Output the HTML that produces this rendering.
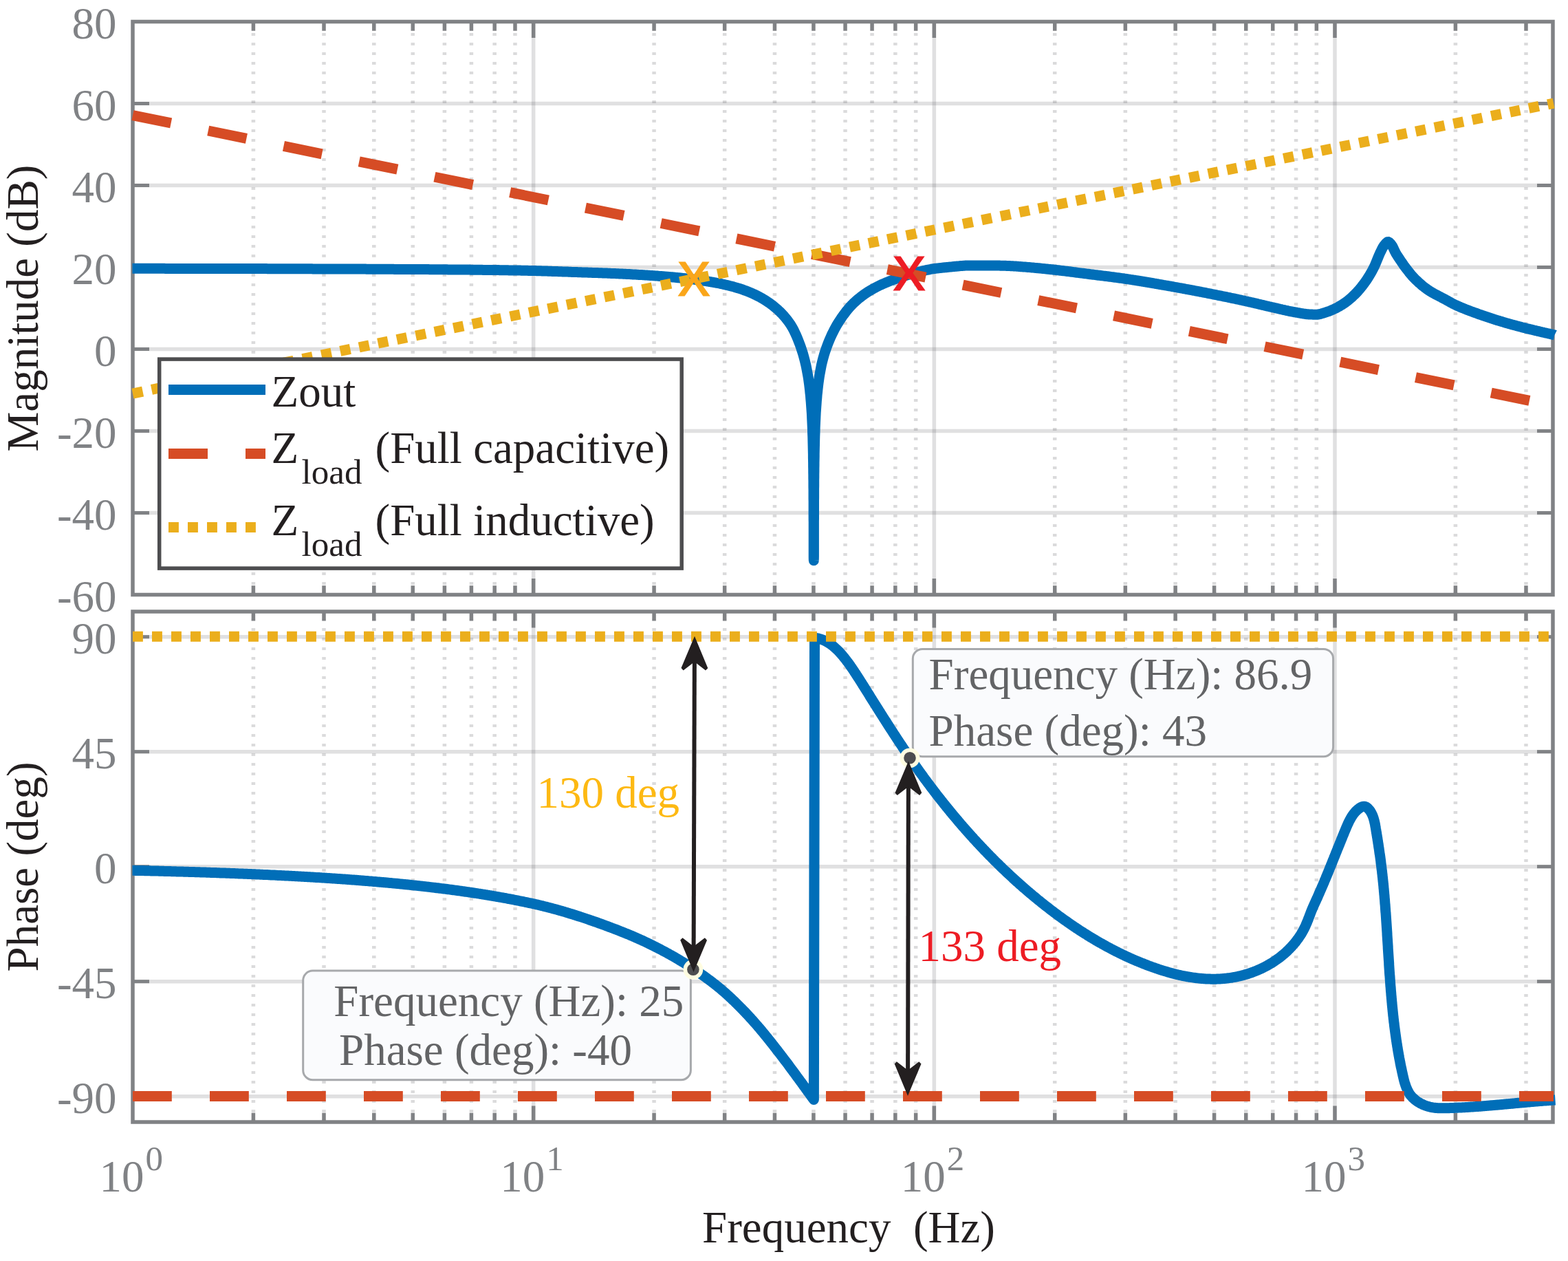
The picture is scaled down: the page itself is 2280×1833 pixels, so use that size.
<!DOCTYPE html>
<html lang="en">
<head>
<meta charset="utf-8">
<title>Bode plot: Zout and Zload</title>
<style>html,body{margin:0;padding:0;background:#fff}body{width:2280px;height:1833px;overflow:hidden}svg text{white-space:pre}</style>
</head>
<body>
<svg xmlns="http://www.w3.org/2000/svg" width="2280" height="1833" viewBox="0 0 2280 1833" style="display:block" font-family="'Liberation Serif', serif" font-size="65.0">
<rect width="2280" height="1833" fill="#fff"/>
<g id="mag">
<line x1="775.66" y1="31.5" x2="775.66" y2="864.5" stroke="rgba(40,40,50,0.145)" stroke-width="5.5"/>
<line x1="1358.33" y1="31.5" x2="1358.33" y2="864.5" stroke="rgba(40,40,50,0.145)" stroke-width="5.5"/>
<line x1="1940.99" y1="31.5" x2="1940.99" y2="864.5" stroke="rgba(40,40,50,0.145)" stroke-width="5.5"/>
<line x1="368.40" y1="48.1" x2="368.40" y2="864.5" stroke="rgba(40,40,50,0.17)" stroke-width="5.5" stroke-dasharray="4 10"/>
<line x1="471.00" y1="48.1" x2="471.00" y2="864.5" stroke="rgba(40,40,50,0.17)" stroke-width="5.5" stroke-dasharray="4 10"/>
<line x1="543.80" y1="48.1" x2="543.80" y2="864.5" stroke="rgba(40,40,50,0.17)" stroke-width="5.5" stroke-dasharray="4 10"/>
<line x1="600.26" y1="48.1" x2="600.26" y2="864.5" stroke="rgba(40,40,50,0.17)" stroke-width="5.5" stroke-dasharray="4 10"/>
<line x1="646.40" y1="48.1" x2="646.40" y2="864.5" stroke="rgba(40,40,50,0.17)" stroke-width="5.5" stroke-dasharray="4 10"/>
<line x1="685.41" y1="48.1" x2="685.41" y2="864.5" stroke="rgba(40,40,50,0.17)" stroke-width="5.5" stroke-dasharray="4 10"/>
<line x1="719.20" y1="48.1" x2="719.20" y2="864.5" stroke="rgba(40,40,50,0.17)" stroke-width="5.5" stroke-dasharray="4 10"/>
<line x1="749.00" y1="48.1" x2="749.00" y2="864.5" stroke="rgba(40,40,50,0.17)" stroke-width="5.5" stroke-dasharray="4 10"/>
<line x1="951.06" y1="48.1" x2="951.06" y2="864.5" stroke="rgba(40,40,50,0.17)" stroke-width="5.5" stroke-dasharray="4 10"/>
<line x1="1053.67" y1="48.1" x2="1053.67" y2="864.5" stroke="rgba(40,40,50,0.17)" stroke-width="5.5" stroke-dasharray="4 10"/>
<line x1="1126.46" y1="48.1" x2="1126.46" y2="864.5" stroke="rgba(40,40,50,0.17)" stroke-width="5.5" stroke-dasharray="4 10"/>
<line x1="1182.93" y1="48.1" x2="1182.93" y2="864.5" stroke="rgba(40,40,50,0.17)" stroke-width="5.5" stroke-dasharray="4 10"/>
<line x1="1229.06" y1="48.1" x2="1229.06" y2="864.5" stroke="rgba(40,40,50,0.17)" stroke-width="5.5" stroke-dasharray="4 10"/>
<line x1="1268.07" y1="48.1" x2="1268.07" y2="864.5" stroke="rgba(40,40,50,0.17)" stroke-width="5.5" stroke-dasharray="4 10"/>
<line x1="1301.86" y1="48.1" x2="1301.86" y2="864.5" stroke="rgba(40,40,50,0.17)" stroke-width="5.5" stroke-dasharray="4 10"/>
<line x1="1331.67" y1="48.1" x2="1331.67" y2="864.5" stroke="rgba(40,40,50,0.17)" stroke-width="5.5" stroke-dasharray="4 10"/>
<line x1="1533.73" y1="48.1" x2="1533.73" y2="864.5" stroke="rgba(40,40,50,0.17)" stroke-width="5.5" stroke-dasharray="4 10"/>
<line x1="1636.33" y1="48.1" x2="1636.33" y2="864.5" stroke="rgba(40,40,50,0.17)" stroke-width="5.5" stroke-dasharray="4 10"/>
<line x1="1709.13" y1="48.1" x2="1709.13" y2="864.5" stroke="rgba(40,40,50,0.17)" stroke-width="5.5" stroke-dasharray="4 10"/>
<line x1="1765.59" y1="48.1" x2="1765.59" y2="864.5" stroke="rgba(40,40,50,0.17)" stroke-width="5.5" stroke-dasharray="4 10"/>
<line x1="1811.73" y1="48.1" x2="1811.73" y2="864.5" stroke="rgba(40,40,50,0.17)" stroke-width="5.5" stroke-dasharray="4 10"/>
<line x1="1850.74" y1="48.1" x2="1850.74" y2="864.5" stroke="rgba(40,40,50,0.17)" stroke-width="5.5" stroke-dasharray="4 10"/>
<line x1="1884.53" y1="48.1" x2="1884.53" y2="864.5" stroke="rgba(40,40,50,0.17)" stroke-width="5.5" stroke-dasharray="4 10"/>
<line x1="1914.33" y1="48.1" x2="1914.33" y2="864.5" stroke="rgba(40,40,50,0.17)" stroke-width="5.5" stroke-dasharray="4 10"/>
<line x1="2116.39" y1="48.1" x2="2116.39" y2="864.5" stroke="rgba(40,40,50,0.17)" stroke-width="5.5" stroke-dasharray="4 10"/>
<line x1="2218.99" y1="48.1" x2="2218.99" y2="864.5" stroke="rgba(40,40,50,0.17)" stroke-width="5.5" stroke-dasharray="4 10"/>
<line x1="193.0" y1="150.50" x2="2258.0" y2="150.50" stroke="rgba(40,40,50,0.145)" stroke-width="5.4"/>
<line x1="193.0" y1="269.50" x2="2258.0" y2="269.50" stroke="rgba(40,40,50,0.145)" stroke-width="5.4"/>
<line x1="193.0" y1="388.50" x2="2258.0" y2="388.50" stroke="rgba(40,40,50,0.145)" stroke-width="5.4"/>
<line x1="193.0" y1="507.50" x2="2258.0" y2="507.50" stroke="rgba(40,40,50,0.145)" stroke-width="5.4"/>
<line x1="193.0" y1="626.50" x2="2258.0" y2="626.50" stroke="rgba(40,40,50,0.145)" stroke-width="5.4"/>
<line x1="193.0" y1="745.50" x2="2258.0" y2="745.50" stroke="rgba(40,40,50,0.145)" stroke-width="5.4"/>
<line x1="368.40" y1="31.5" x2="368.40" y2="44.8" stroke="#808285" stroke-width="5.5"/>
<line x1="368.40" y1="864.5" x2="368.40" y2="851.2" stroke="#808285" stroke-width="5.5"/>
<line x1="471.00" y1="31.5" x2="471.00" y2="44.8" stroke="#808285" stroke-width="5.5"/>
<line x1="471.00" y1="864.5" x2="471.00" y2="851.2" stroke="#808285" stroke-width="5.5"/>
<line x1="543.80" y1="31.5" x2="543.80" y2="44.8" stroke="#808285" stroke-width="5.5"/>
<line x1="543.80" y1="864.5" x2="543.80" y2="851.2" stroke="#808285" stroke-width="5.5"/>
<line x1="600.26" y1="31.5" x2="600.26" y2="44.8" stroke="#808285" stroke-width="5.5"/>
<line x1="600.26" y1="864.5" x2="600.26" y2="851.2" stroke="#808285" stroke-width="5.5"/>
<line x1="646.40" y1="31.5" x2="646.40" y2="44.8" stroke="#808285" stroke-width="5.5"/>
<line x1="646.40" y1="864.5" x2="646.40" y2="851.2" stroke="#808285" stroke-width="5.5"/>
<line x1="685.41" y1="31.5" x2="685.41" y2="44.8" stroke="#808285" stroke-width="5.5"/>
<line x1="685.41" y1="864.5" x2="685.41" y2="851.2" stroke="#808285" stroke-width="5.5"/>
<line x1="719.20" y1="31.5" x2="719.20" y2="44.8" stroke="#808285" stroke-width="5.5"/>
<line x1="719.20" y1="864.5" x2="719.20" y2="851.2" stroke="#808285" stroke-width="5.5"/>
<line x1="749.00" y1="31.5" x2="749.00" y2="44.8" stroke="#808285" stroke-width="5.5"/>
<line x1="749.00" y1="864.5" x2="749.00" y2="851.2" stroke="#808285" stroke-width="5.5"/>
<line x1="775.66" y1="31.5" x2="775.66" y2="55.0" stroke="#808285" stroke-width="5.5"/>
<line x1="775.66" y1="864.5" x2="775.66" y2="841.0" stroke="#808285" stroke-width="5.5"/>
<line x1="951.06" y1="31.5" x2="951.06" y2="44.8" stroke="#808285" stroke-width="5.5"/>
<line x1="951.06" y1="864.5" x2="951.06" y2="851.2" stroke="#808285" stroke-width="5.5"/>
<line x1="1053.67" y1="31.5" x2="1053.67" y2="44.8" stroke="#808285" stroke-width="5.5"/>
<line x1="1053.67" y1="864.5" x2="1053.67" y2="851.2" stroke="#808285" stroke-width="5.5"/>
<line x1="1126.46" y1="31.5" x2="1126.46" y2="44.8" stroke="#808285" stroke-width="5.5"/>
<line x1="1126.46" y1="864.5" x2="1126.46" y2="851.2" stroke="#808285" stroke-width="5.5"/>
<line x1="1182.93" y1="31.5" x2="1182.93" y2="44.8" stroke="#808285" stroke-width="5.5"/>
<line x1="1182.93" y1="864.5" x2="1182.93" y2="851.2" stroke="#808285" stroke-width="5.5"/>
<line x1="1229.06" y1="31.5" x2="1229.06" y2="44.8" stroke="#808285" stroke-width="5.5"/>
<line x1="1229.06" y1="864.5" x2="1229.06" y2="851.2" stroke="#808285" stroke-width="5.5"/>
<line x1="1268.07" y1="31.5" x2="1268.07" y2="44.8" stroke="#808285" stroke-width="5.5"/>
<line x1="1268.07" y1="864.5" x2="1268.07" y2="851.2" stroke="#808285" stroke-width="5.5"/>
<line x1="1301.86" y1="31.5" x2="1301.86" y2="44.8" stroke="#808285" stroke-width="5.5"/>
<line x1="1301.86" y1="864.5" x2="1301.86" y2="851.2" stroke="#808285" stroke-width="5.5"/>
<line x1="1331.67" y1="31.5" x2="1331.67" y2="44.8" stroke="#808285" stroke-width="5.5"/>
<line x1="1331.67" y1="864.5" x2="1331.67" y2="851.2" stroke="#808285" stroke-width="5.5"/>
<line x1="1358.33" y1="31.5" x2="1358.33" y2="55.0" stroke="#808285" stroke-width="5.5"/>
<line x1="1358.33" y1="864.5" x2="1358.33" y2="841.0" stroke="#808285" stroke-width="5.5"/>
<line x1="1533.73" y1="31.5" x2="1533.73" y2="44.8" stroke="#808285" stroke-width="5.5"/>
<line x1="1533.73" y1="864.5" x2="1533.73" y2="851.2" stroke="#808285" stroke-width="5.5"/>
<line x1="1636.33" y1="31.5" x2="1636.33" y2="44.8" stroke="#808285" stroke-width="5.5"/>
<line x1="1636.33" y1="864.5" x2="1636.33" y2="851.2" stroke="#808285" stroke-width="5.5"/>
<line x1="1709.13" y1="31.5" x2="1709.13" y2="44.8" stroke="#808285" stroke-width="5.5"/>
<line x1="1709.13" y1="864.5" x2="1709.13" y2="851.2" stroke="#808285" stroke-width="5.5"/>
<line x1="1765.59" y1="31.5" x2="1765.59" y2="44.8" stroke="#808285" stroke-width="5.5"/>
<line x1="1765.59" y1="864.5" x2="1765.59" y2="851.2" stroke="#808285" stroke-width="5.5"/>
<line x1="1811.73" y1="31.5" x2="1811.73" y2="44.8" stroke="#808285" stroke-width="5.5"/>
<line x1="1811.73" y1="864.5" x2="1811.73" y2="851.2" stroke="#808285" stroke-width="5.5"/>
<line x1="1850.74" y1="31.5" x2="1850.74" y2="44.8" stroke="#808285" stroke-width="5.5"/>
<line x1="1850.74" y1="864.5" x2="1850.74" y2="851.2" stroke="#808285" stroke-width="5.5"/>
<line x1="1884.53" y1="31.5" x2="1884.53" y2="44.8" stroke="#808285" stroke-width="5.5"/>
<line x1="1884.53" y1="864.5" x2="1884.53" y2="851.2" stroke="#808285" stroke-width="5.5"/>
<line x1="1914.33" y1="31.5" x2="1914.33" y2="44.8" stroke="#808285" stroke-width="5.5"/>
<line x1="1914.33" y1="864.5" x2="1914.33" y2="851.2" stroke="#808285" stroke-width="5.5"/>
<line x1="1940.99" y1="31.5" x2="1940.99" y2="55.0" stroke="#808285" stroke-width="5.5"/>
<line x1="1940.99" y1="864.5" x2="1940.99" y2="841.0" stroke="#808285" stroke-width="5.5"/>
<line x1="2116.39" y1="31.5" x2="2116.39" y2="44.8" stroke="#808285" stroke-width="5.5"/>
<line x1="2116.39" y1="864.5" x2="2116.39" y2="851.2" stroke="#808285" stroke-width="5.5"/>
<line x1="2218.99" y1="31.5" x2="2218.99" y2="44.8" stroke="#808285" stroke-width="5.5"/>
<line x1="2218.99" y1="864.5" x2="2218.99" y2="851.2" stroke="#808285" stroke-width="5.5"/>
<line x1="193.0" y1="150.50" x2="217.0" y2="150.50" stroke="#808285" stroke-width="5"/>
<line x1="2258.0" y1="150.50" x2="2235.0" y2="150.50" stroke="#808285" stroke-width="5"/>
<line x1="193.0" y1="269.50" x2="217.0" y2="269.50" stroke="#808285" stroke-width="5"/>
<line x1="2258.0" y1="269.50" x2="2235.0" y2="269.50" stroke="#808285" stroke-width="5"/>
<line x1="193.0" y1="388.50" x2="217.0" y2="388.50" stroke="#808285" stroke-width="5"/>
<line x1="2258.0" y1="388.50" x2="2235.0" y2="388.50" stroke="#808285" stroke-width="5"/>
<line x1="193.0" y1="507.50" x2="217.0" y2="507.50" stroke="#808285" stroke-width="5"/>
<line x1="2258.0" y1="507.50" x2="2235.0" y2="507.50" stroke="#808285" stroke-width="5"/>
<line x1="193.0" y1="626.50" x2="217.0" y2="626.50" stroke="#808285" stroke-width="5"/>
<line x1="2258.0" y1="626.50" x2="2235.0" y2="626.50" stroke="#808285" stroke-width="5"/>
<line x1="193.0" y1="745.50" x2="217.0" y2="745.50" stroke="#808285" stroke-width="5"/>
<line x1="2258.0" y1="745.50" x2="2235.0" y2="745.50" stroke="#808285" stroke-width="5"/>
<rect x="193.0" y="31.5" width="2065.0" height="833.0" fill="none" stroke="#808285" stroke-width="5.5"/>
<path d="M192.5 390.3 L194.0 390.3 L195.5 390.3 L197.0 390.3 L198.5 390.3 L200.0 390.3 L201.5 390.3 L203.0 390.3 L204.5 390.3 L206.0 390.3 L207.5 390.3 L209.0 390.3 L210.5 390.3 L212.0 390.3 L213.5 390.3 L215.0 390.3 L216.5 390.3 L218.0 390.3 L219.5 390.3 L221.0 390.3 L222.5 390.3 L224.0 390.3 L225.5 390.3 L227.0 390.3 L228.5 390.3 L230.0 390.3 L231.5 390.3 L233.0 390.3 L234.5 390.3 L236.0 390.3 L237.5 390.3 L239.0 390.3 L240.5 390.4 L242.0 390.4 L243.5 390.4 L245.0 390.4 L246.5 390.4 L248.0 390.4 L249.5 390.4 L251.0 390.4 L252.5 390.4 L254.0 390.4 L255.5 390.4 L257.0 390.4 L258.5 390.4 L260.0 390.4 L261.5 390.4 L263.0 390.4 L264.5 390.4 L266.0 390.4 L267.5 390.4 L269.0 390.4 L270.5 390.4 L272.0 390.4 L273.5 390.4 L275.0 390.4 L276.5 390.4 L278.0 390.4 L279.5 390.4 L281.0 390.4 L282.5 390.4 L284.0 390.4 L285.5 390.4 L287.0 390.4 L288.5 390.4 L290.0 390.4 L291.5 390.4 L293.0 390.4 L294.5 390.4 L296.0 390.4 L297.5 390.4 L299.0 390.4 L300.5 390.4 L302.0 390.5 L303.5 390.5 L305.0 390.5 L306.5 390.5 L308.0 390.5 L309.5 390.5 L311.0 390.5 L312.5 390.5 L314.0 390.5 L315.5 390.5 L317.0 390.5 L318.5 390.5 L320.0 390.5 L321.5 390.5 L323.0 390.5 L324.5 390.5 L326.0 390.5 L327.5 390.5 L329.0 390.5 L330.5 390.5 L332.0 390.5 L333.5 390.5 L335.0 390.5 L336.5 390.5 L338.0 390.5 L339.5 390.5 L341.0 390.5 L342.5 390.5 L344.0 390.5 L345.5 390.5 L347.0 390.5 L348.5 390.5 L350.0 390.6 L351.5 390.6 L353.0 390.6 L354.5 390.6 L356.0 390.6 L357.5 390.6 L359.0 390.6 L360.5 390.6 L362.0 390.6 L363.5 390.6 L365.0 390.6 L366.5 390.6 L368.0 390.6 L369.5 390.6 L371.0 390.6 L372.5 390.6 L374.0 390.6 L375.5 390.6 L377.0 390.6 L378.5 390.6 L380.0 390.6 L381.5 390.6 L383.0 390.6 L384.5 390.6 L386.0 390.6 L387.5 390.6 L389.0 390.7 L390.5 390.7 L392.0 390.7 L393.5 390.7 L395.0 390.7 L396.5 390.7 L398.0 390.7 L399.5 390.7 L401.0 390.7 L402.5 390.7 L404.0 390.7 L405.5 390.7 L407.0 390.7 L408.5 390.7 L410.0 390.7 L411.5 390.7 L413.0 390.7 L414.5 390.7 L416.0 390.7 L417.5 390.7 L419.0 390.7 L420.5 390.7 L422.0 390.7 L423.5 390.8 L425.0 390.8 L426.5 390.8 L428.0 390.8 L429.5 390.8 L431.0 390.8 L432.5 390.8 L434.0 390.8 L435.5 390.8 L437.0 390.8 L438.5 390.8 L440.0 390.8 L441.5 390.8 L443.0 390.8 L444.5 390.8 L446.0 390.8 L447.5 390.8 L449.0 390.8 L450.5 390.8 L452.0 390.8 L453.5 390.8 L455.0 390.9 L456.5 390.9 L458.0 390.9 L459.5 390.9 L461.0 390.9 L462.5 390.9 L464.0 390.9 L465.5 390.9 L467.0 390.9 L468.5 390.9 L470.0 390.9 L471.5 390.9 L473.0 390.9 L474.5 390.9 L476.0 390.9 L477.5 390.9 L479.0 390.9 L480.5 390.9 L482.0 390.9 L483.5 391.0 L485.0 391.0 L486.5 391.0 L488.0 391.0 L489.5 391.0 L491.0 391.0 L492.5 391.0 L494.0 391.0 L495.5 391.0 L497.0 391.0 L498.5 391.0 L500.0 391.0 L501.5 391.0 L503.0 391.0 L504.5 391.0 L506.0 391.0 L507.5 391.0 L509.0 391.1 L510.5 391.1 L512.0 391.1 L513.5 391.1 L515.0 391.1 L516.5 391.1 L518.0 391.1 L519.5 391.1 L521.0 391.1 L522.5 391.1 L524.0 391.1 L525.5 391.1 L527.0 391.1 L528.5 391.1 L530.0 391.1 L531.5 391.1 L533.0 391.2 L534.5 391.2 L536.0 391.2 L537.5 391.2 L539.0 391.2 L540.5 391.2 L542.0 391.2 L543.5 391.2 L545.0 391.2 L546.5 391.2 L548.0 391.2 L549.5 391.2 L551.0 391.2 L552.5 391.2 L554.0 391.3 L555.5 391.3 L557.0 391.3 L558.5 391.3 L560.0 391.3 L561.5 391.3 L563.0 391.3 L564.5 391.3 L566.0 391.3 L567.5 391.3 L569.0 391.3 L570.5 391.3 L572.0 391.3 L573.5 391.4 L575.0 391.4 L576.5 391.4 L578.0 391.4 L579.5 391.4 L581.0 391.4 L582.5 391.4 L584.0 391.4 L585.5 391.4 L587.0 391.4 L588.5 391.4 L590.0 391.4 L591.5 391.4 L593.0 391.5 L594.5 391.5 L596.0 391.5 L597.5 391.5 L599.0 391.5 L600.5 391.5 L602.0 391.5 L603.5 391.5 L605.0 391.5 L606.5 391.5 L608.0 391.5 L609.5 391.6 L611.0 391.6 L612.5 391.6 L614.0 391.6 L615.5 391.6 L617.0 391.6 L618.5 391.6 L620.0 391.6 L621.5 391.6 L623.0 391.6 L624.5 391.7 L626.0 391.7 L627.5 391.7 L629.0 391.7 L630.5 391.7 L632.0 391.7 L633.5 391.7 L635.0 391.7 L636.5 391.7 L638.0 391.7 L639.5 391.8 L641.0 391.8 L642.5 391.8 L644.0 391.8 L645.5 391.8 L647.0 391.8 L648.5 391.8 L650.0 391.8 L651.5 391.9 L653.0 391.9 L654.5 391.9 L656.0 391.9 L657.5 391.9 L659.0 391.9 L660.5 391.9 L662.0 391.9 L663.5 392.0 L665.0 392.0 L666.5 392.0 L668.0 392.0 L669.5 392.0 L671.0 392.0 L672.5 392.0 L674.0 392.1 L675.5 392.1 L677.0 392.1 L678.5 392.1 L680.0 392.1 L681.5 392.1 L683.0 392.1 L684.5 392.2 L686.0 392.2 L687.5 392.2 L689.0 392.2 L690.5 392.2 L692.0 392.2 L693.5 392.3 L695.0 392.3 L696.5 392.3 L698.0 392.3 L699.5 392.3 L701.0 392.3 L702.5 392.4 L704.0 392.4 L705.5 392.4 L707.0 392.4 L708.5 392.4 L710.0 392.4 L711.5 392.5 L713.0 392.5 L714.5 392.5 L716.0 392.5 L717.5 392.5 L719.0 392.6 L720.5 392.6 L722.0 392.6 L723.5 392.6 L725.0 392.6 L726.5 392.7 L728.0 392.7 L729.5 392.7 L731.0 392.7 L732.5 392.7 L734.0 392.8 L735.5 392.8 L737.0 392.8 L738.5 392.8 L740.0 392.9 L741.5 392.9 L743.0 392.9 L744.5 392.9 L746.0 393.0 L747.5 393.0 L749.0 393.0 L750.5 393.0 L752.0 393.1 L753.5 393.1 L755.0 393.1 L756.5 393.1 L758.0 393.2 L759.5 393.2 L761.0 393.2 L762.5 393.2 L764.0 393.3 L765.5 393.3 L767.0 393.3 L768.5 393.4 L770.0 393.4 L771.5 393.4 L773.0 393.5 L774.5 393.5 L776.0 393.6 L777.5 393.6 L779.0 393.6 L780.5 393.7 L782.0 393.7 L783.5 393.8 L785.0 393.8 L786.5 393.8 L788.0 393.9 L789.5 393.9 L791.0 394.0 L792.5 394.0 L794.0 394.1 L795.5 394.1 L797.0 394.2 L798.5 394.2 L800.0 394.3 L801.5 394.3 L803.0 394.4 L804.5 394.4 L806.0 394.5 L807.5 394.5 L809.0 394.6 L810.5 394.6 L812.0 394.7 L813.5 394.7 L815.0 394.8 L816.5 394.8 L818.0 394.9 L819.5 394.9 L821.0 395.0 L822.5 395.0 L824.0 395.1 L825.5 395.1 L827.0 395.2 L828.5 395.3 L830.0 395.3 L831.5 395.4 L833.0 395.4 L834.5 395.5 L836.0 395.5 L837.5 395.6 L839.0 395.6 L840.5 395.7 L842.0 395.7 L843.5 395.8 L845.0 395.8 L846.5 395.9 L848.0 395.9 L849.5 396.0 L851.0 396.0 L852.5 396.1 L854.0 396.1 L855.5 396.2 L857.0 396.2 L858.5 396.3 L860.0 396.3 L861.5 396.4 L863.0 396.4 L864.5 396.5 L866.0 396.5 L867.5 396.6 L869.0 396.6 L870.5 396.7 L872.0 396.7 L873.5 396.8 L875.0 396.8 L876.5 396.9 L878.0 397.0 L879.5 397.0 L881.0 397.1 L882.5 397.1 L884.0 397.2 L885.5 397.3 L887.0 397.3 L888.5 397.4 L890.0 397.4 L891.5 397.5 L893.0 397.6 L894.5 397.6 L896.0 397.7 L897.5 397.8 L899.0 397.8 L900.5 397.9 L902.0 398.0 L903.5 398.0 L905.0 398.1 L906.5 398.2 L908.0 398.3 L909.5 398.3 L911.0 398.4 L912.5 398.5 L914.0 398.6 L915.5 398.6 L917.0 398.7 L918.5 398.8 L920.0 398.9 L921.5 398.9 L923.0 399.0 L924.5 399.1 L926.0 399.2 L927.5 399.3 L929.0 399.4 L930.5 399.5 L932.0 399.5 L933.5 399.6 L935.0 399.7 L936.5 399.8 L938.0 399.9 L939.5 400.0 L941.0 400.1 L942.5 400.2 L944.0 400.3 L945.5 400.4 L947.0 400.5 L948.5 400.6 L950.0 400.7 L951.5 400.8 L953.0 400.9 L954.5 401.0 L956.0 401.1 L957.5 401.3 L959.0 401.4 L960.5 401.5 L962.0 401.6 L963.5 401.7 L965.0 401.8 L966.5 401.9 L968.0 402.1 L969.5 402.2 L971.0 402.3 L972.5 402.4 L974.0 402.6 L975.5 402.7 L977.0 402.8 L978.5 403.0 L980.0 403.1 L981.5 403.2 L983.0 403.4 L984.5 403.5 L986.0 403.7 L987.5 403.8 L989.0 404.0 L990.5 404.1 L992.0 404.3 L993.5 404.4 L995.0 404.6 L996.5 404.7 L998.0 404.9 L999.5 405.1 L1001.0 405.2 L1002.5 405.4 L1004.0 405.6 L1005.5 405.8 L1007.0 406.0 L1008.5 406.1 L1010.0 406.3 L1011.5 406.5 L1013.0 406.7 L1014.5 406.9 L1016.0 407.1 L1017.5 407.3 L1019.0 407.5 L1020.5 407.7 L1022.0 407.9 L1023.5 408.2 L1025.0 408.4 L1026.5 408.6 L1028.0 408.8 L1029.5 409.1 L1031.0 409.3 L1032.5 409.6 L1034.0 409.8 L1035.5 410.1 L1037.0 410.3 L1038.5 410.6 L1040.0 410.9 L1041.5 411.2 L1043.0 411.4 L1044.5 411.7 L1046.0 412.0 L1047.5 412.3 L1049.0 412.7 L1050.5 413.0 L1052.0 413.3 L1053.5 413.7 L1055.0 414.0 L1056.5 414.4 L1058.0 414.7 L1059.5 415.1 L1061.0 415.5 L1062.5 415.8 L1064.0 416.2 L1065.5 416.6 L1067.0 417.0 L1068.5 417.5 L1070.0 417.9 L1071.5 418.3 L1073.0 418.8 L1074.5 419.2 L1076.0 419.7 L1077.5 420.2 L1079.0 420.7 L1080.5 421.2 L1082.0 421.8 L1083.5 422.3 L1085.0 422.9 L1086.5 423.4 L1088.0 424.0 L1089.5 424.6 L1091.0 425.2 L1092.5 425.9 L1094.0 426.5 L1095.5 427.2 L1097.0 427.9 L1098.5 428.6 L1100.0 429.4 L1101.5 430.1 L1103.0 430.9 L1104.5 431.7 L1106.0 432.5 L1107.5 433.4 L1109.0 434.2 L1110.5 435.1 L1112.0 436.0 L1113.5 437.0 L1115.0 437.9 L1116.5 438.9 L1118.0 439.9 L1119.5 441.0 L1121.0 442.1 L1122.5 443.2 L1124.0 444.4 L1125.5 445.6 L1127.0 446.8 L1128.5 448.1 L1130.0 449.4 L1131.5 450.7 L1133.0 452.2 L1134.5 453.6 L1136.0 455.1 L1137.5 456.7 L1139.0 458.3 L1140.5 460.0 L1142.0 461.8 L1143.5 463.6 L1145.0 465.5 L1146.5 467.5 L1148.0 469.6 L1149.5 471.8 L1151.0 474.2 L1152.5 476.8 L1154.0 479.6 L1155.5 482.7 L1157.0 485.9 L1158.5 489.3 L1160.0 492.9 L1161.5 496.7 L1163.0 500.6 L1164.5 504.8 L1166.0 509.3 L1167.5 514.1 L1169.0 519.3 L1170.5 525.1 L1171.3 528.5 L1172.3 532.8 L1173.1 537.1 L1173.9 541.3 L1174.7 545.6 L1175.4 549.8 L1176.0 554.1 L1176.6 558.4 L1177.1 562.6 L1177.6 566.9 L1178.0 571.2 L1178.5 575.4 L1178.8 579.7 L1179.2 584.0 L1179.5 588.2 L1179.8 592.5 L1180.1 596.8 L1180.4 601.1 L1180.6 605.3 L1180.8 609.6 L1181.0 613.9 L1181.2 618.1 L1181.4 622.4 L1181.5 626.7 L1181.6 631.0 L1181.8 635.2 L1181.9 639.5 L1182.0 643.8 L1182.1 648.0 L1182.2 652.3 L1182.3 656.6 L1182.4 660.9 L1182.4 665.1 L1182.5 669.4 L1182.6 673.7 L1182.6 677.9 L1182.7 682.2 L1182.7 686.5 L1182.8 690.8 L1182.8 695.0 L1182.9 699.3 L1182.9 703.6 L1182.9 707.8 L1183.0 712.1 L1183.0 716.4 L1183.0 720.7 L1183.0 724.9 L1183.1 729.2 L1183.1 733.5 L1183.1 737.8 L1183.1 742.0 L1183.1 746.3 L1183.1 750.6 L1183.1 754.8 L1183.2 759.1 L1183.2 763.4 L1183.2 767.7 L1183.2 771.9 L1183.2 776.2 L1183.2 780.5 L1183.2 784.7 L1183.2 789.0 L1183.2 793.3 L1183.2 797.6 L1183.2 801.8 L1183.2 806.1 L1183.2 810.4 L1183.3 814.7 L1183.3 814.7 L1183.3 813.5 L1183.4 809.2 L1183.4 804.9 L1183.4 800.6 L1183.4 796.4 L1183.4 792.1 L1183.4 787.8 L1183.4 783.5 L1183.4 779.3 L1183.4 775.0 L1183.4 770.7 L1183.4 766.5 L1183.4 762.2 L1183.4 757.9 L1183.5 753.6 L1183.5 749.4 L1183.5 745.1 L1183.5 740.8 L1183.5 736.5 L1183.5 732.3 L1183.5 728.0 L1183.6 723.7 L1183.6 719.5 L1183.6 715.2 L1183.6 710.9 L1183.7 706.6 L1183.7 702.4 L1183.7 698.1 L1183.8 693.8 L1183.8 689.5 L1183.9 685.3 L1183.9 681.0 L1184.0 676.7 L1184.0 672.4 L1184.1 668.2 L1184.2 663.9 L1184.2 659.6 L1184.3 655.3 L1184.4 651.1 L1184.5 646.8 L1184.6 642.5 L1184.7 638.2 L1184.8 633.9 L1185.0 629.7 L1185.1 625.4 L1185.2 621.1 L1185.4 616.8 L1185.6 612.5 L1185.8 608.3 L1186.0 604.0 L1186.2 599.7 L1186.5 595.4 L1186.8 591.1 L1187.1 586.9 L1187.4 582.6 L1187.8 578.3 L1188.1 574.0 L1188.6 569.7 L1189.0 565.5 L1189.5 561.2 L1190.0 556.9 L1190.6 552.6 L1191.2 548.4 L1191.9 544.1 L1192.7 539.8 L1193.5 535.6 L1194.3 531.3 L1195.3 527.1 L1196.8 521.1 L1198.3 515.8 L1199.8 511.0 L1201.3 506.6 L1202.8 502.4 L1204.3 498.6 L1205.8 494.9 L1207.3 491.4 L1208.8 488.0 L1210.3 484.8 L1211.8 481.8 L1213.3 478.8 L1214.8 476.1 L1216.3 473.4 L1217.8 470.9 L1219.3 468.5 L1220.8 466.1 L1222.3 463.9 L1223.8 461.6 L1225.3 459.5 L1226.8 457.4 L1228.3 455.4 L1229.8 453.4 L1231.3 451.5 L1232.8 449.7 L1234.3 447.9 L1235.8 446.2 L1237.3 444.6 L1238.8 443.0 L1240.3 441.5 L1241.8 440.1 L1243.3 438.7 L1244.8 437.3 L1246.3 436.0 L1247.8 434.7 L1249.3 433.5 L1250.8 432.3 L1252.3 431.1 L1253.8 430.0 L1255.3 428.9 L1256.8 427.8 L1258.3 426.8 L1259.8 425.8 L1261.3 424.8 L1262.8 423.8 L1264.3 422.9 L1265.8 422.0 L1267.3 421.1 L1268.8 420.3 L1270.3 419.4 L1271.8 418.6 L1273.3 417.8 L1274.8 417.0 L1276.3 416.3 L1277.8 415.5 L1279.3 414.8 L1280.8 414.1 L1282.3 413.4 L1283.8 412.7 L1285.3 412.1 L1286.8 411.5 L1288.3 410.8 L1289.8 410.2 L1291.3 409.6 L1292.8 409.0 L1294.3 408.4 L1295.8 407.8 L1297.3 407.3 L1298.8 406.7 L1300.3 406.2 L1301.8 405.6 L1303.3 405.1 L1304.8 404.6 L1306.3 404.0 L1307.8 403.5 L1309.3 403.0 L1310.8 402.5 L1312.3 402.0 L1313.8 401.6 L1315.3 401.1 L1316.8 400.6 L1318.3 400.2 L1319.8 399.7 L1321.3 399.3 L1322.8 398.8 L1324.3 398.4 L1325.8 398.0 L1327.3 397.6 L1328.8 397.2 L1330.3 396.8 L1331.8 396.4 L1333.3 396.0 L1334.8 395.6 L1336.3 395.2 L1337.8 394.8 L1339.3 394.5 L1340.8 394.1 L1342.3 393.7 L1343.8 393.4 L1345.3 393.0 L1346.8 392.7 L1348.3 392.4 L1349.8 392.1 L1351.3 391.8 L1352.8 391.5 L1354.3 391.2 L1355.8 390.9 L1357.3 390.7 L1358.8 390.5 L1360.3 390.3 L1361.8 390.1 L1363.3 389.9 L1364.8 389.8 L1366.3 389.6 L1367.8 389.4 L1369.3 389.3 L1370.8 389.1 L1372.3 389.0 L1373.8 388.8 L1375.3 388.7 L1376.8 388.5 L1378.3 388.4 L1379.8 388.2 L1381.3 388.1 L1382.8 387.9 L1384.3 387.8 L1385.8 387.6 L1387.3 387.5 L1388.8 387.3 L1390.3 387.2 L1391.8 387.0 L1393.3 386.9 L1394.8 386.8 L1396.3 386.6 L1397.8 386.5 L1399.3 386.4 L1400.8 386.3 L1402.3 386.2 L1403.8 386.1 L1405.3 386.1 L1406.8 386.0 L1408.3 386.0 L1409.8 386.0 L1411.3 386.0 L1412.8 386.0 L1414.3 386.0 L1415.8 386.0 L1417.3 386.0 L1418.8 386.1 L1420.3 386.1 L1421.8 386.1 L1423.3 386.1 L1424.8 386.1 L1426.3 386.1 L1427.8 386.1 L1429.3 386.1 L1430.8 386.1 L1432.3 386.1 L1433.8 386.1 L1435.3 386.1 L1436.8 386.1 L1438.3 386.1 L1439.8 386.1 L1441.3 386.1 L1442.8 386.1 L1444.3 386.1 L1445.8 386.1 L1447.3 386.1 L1448.8 386.1 L1450.3 386.1 L1451.8 386.1 L1453.3 386.1 L1454.8 386.2 L1456.3 386.2 L1457.8 386.2 L1459.3 386.3 L1460.8 386.3 L1462.3 386.3 L1463.8 386.4 L1465.3 386.5 L1466.8 386.5 L1468.3 386.6 L1469.8 386.7 L1471.3 386.7 L1472.8 386.8 L1474.3 386.9 L1475.8 387.0 L1477.3 387.1 L1478.8 387.2 L1480.3 387.3 L1481.8 387.4 L1483.3 387.5 L1484.8 387.7 L1486.3 387.8 L1487.8 387.9 L1489.3 388.0 L1490.8 388.1 L1492.3 388.2 L1493.8 388.4 L1495.3 388.5 L1496.8 388.6 L1498.3 388.7 L1499.8 388.9 L1501.3 389.0 L1502.8 389.1 L1504.3 389.3 L1505.8 389.4 L1507.3 389.5 L1508.8 389.7 L1510.3 389.8 L1511.8 390.0 L1513.3 390.1 L1514.8 390.3 L1516.3 390.4 L1517.8 390.6 L1519.3 390.7 L1520.8 390.9 L1522.3 391.0 L1523.8 391.2 L1525.3 391.4 L1526.8 391.5 L1528.3 391.7 L1529.8 391.8 L1531.3 392.0 L1532.8 392.2 L1534.3 392.3 L1535.8 392.5 L1537.3 392.7 L1538.8 392.8 L1540.3 393.0 L1541.8 393.2 L1543.3 393.4 L1544.8 393.5 L1546.3 393.7 L1547.8 393.9 L1549.3 394.1 L1550.8 394.3 L1552.3 394.5 L1553.8 394.6 L1555.3 394.8 L1556.8 395.0 L1558.3 395.2 L1559.8 395.4 L1561.3 395.6 L1562.8 395.8 L1564.3 396.0 L1565.8 396.2 L1567.3 396.4 L1568.8 396.6 L1570.3 396.8 L1571.8 396.9 L1573.3 397.1 L1574.8 397.3 L1576.3 397.5 L1577.8 397.7 L1579.3 397.9 L1580.8 398.1 L1582.3 398.3 L1583.8 398.5 L1585.3 398.7 L1586.8 398.9 L1588.3 399.0 L1589.8 399.2 L1591.3 399.4 L1592.8 399.6 L1594.3 399.8 L1595.8 400.0 L1597.3 400.2 L1598.8 400.3 L1600.3 400.5 L1601.8 400.7 L1603.3 400.9 L1604.8 401.1 L1606.3 401.3 L1607.8 401.5 L1609.3 401.6 L1610.8 401.8 L1612.3 402.0 L1613.8 402.2 L1615.3 402.4 L1616.8 402.6 L1618.3 402.8 L1619.8 403.0 L1621.3 403.2 L1622.8 403.4 L1624.3 403.6 L1625.8 403.8 L1627.3 404.0 L1628.8 404.2 L1630.3 404.4 L1631.8 404.6 L1633.3 404.8 L1634.8 405.0 L1636.3 405.3 L1637.8 405.5 L1639.3 405.7 L1640.8 405.9 L1642.3 406.1 L1643.8 406.4 L1645.3 406.6 L1646.8 406.8 L1648.3 407.1 L1649.8 407.3 L1651.3 407.5 L1652.8 407.8 L1654.3 408.0 L1655.8 408.2 L1657.3 408.5 L1658.8 408.7 L1660.3 409.0 L1661.8 409.2 L1663.3 409.5 L1664.8 409.7 L1666.3 410.0 L1667.8 410.2 L1669.3 410.5 L1670.8 410.7 L1672.3 411.0 L1673.8 411.2 L1675.3 411.5 L1676.8 411.7 L1678.3 412.0 L1679.8 412.3 L1681.3 412.5 L1682.8 412.8 L1684.3 413.0 L1685.8 413.3 L1687.3 413.6 L1688.8 413.8 L1690.3 414.1 L1691.8 414.4 L1693.3 414.6 L1694.8 414.9 L1696.3 415.1 L1697.8 415.4 L1699.3 415.7 L1700.8 415.9 L1702.3 416.2 L1703.8 416.5 L1705.3 416.7 L1706.8 417.0 L1708.3 417.3 L1709.8 417.6 L1711.3 417.8 L1712.8 418.1 L1714.3 418.4 L1715.8 418.6 L1717.3 418.9 L1718.8 419.2 L1720.3 419.5 L1721.8 419.7 L1723.3 420.0 L1724.8 420.3 L1726.3 420.6 L1727.8 420.8 L1729.3 421.1 L1730.8 421.4 L1732.3 421.7 L1733.8 422.0 L1735.3 422.2 L1736.8 422.5 L1738.3 422.8 L1739.8 423.1 L1741.3 423.4 L1742.8 423.7 L1744.3 424.0 L1745.8 424.2 L1747.3 424.5 L1748.8 424.8 L1750.3 425.1 L1751.8 425.4 L1753.3 425.7 L1754.8 426.0 L1756.3 426.3 L1757.8 426.6 L1759.3 426.9 L1760.8 427.2 L1762.3 427.5 L1763.8 427.8 L1765.3 428.1 L1766.8 428.4 L1768.3 428.7 L1769.8 429.0 L1771.3 429.3 L1772.8 429.6 L1774.3 429.9 L1775.8 430.2 L1777.3 430.5 L1778.8 430.8 L1780.3 431.1 L1781.8 431.4 L1783.3 431.7 L1784.8 432.0 L1786.3 432.3 L1787.8 432.6 L1789.3 433.0 L1790.8 433.3 L1792.3 433.6 L1793.8 433.9 L1795.3 434.2 L1796.8 434.5 L1798.3 434.9 L1799.8 435.2 L1801.3 435.5 L1802.8 435.8 L1804.3 436.2 L1805.8 436.5 L1807.3 436.8 L1808.8 437.1 L1810.3 437.5 L1811.8 437.8 L1813.3 438.1 L1814.8 438.5 L1816.3 438.8 L1817.8 439.2 L1819.3 439.5 L1820.8 439.8 L1822.3 440.2 L1823.8 440.5 L1825.3 440.9 L1826.8 441.2 L1828.3 441.6 L1829.8 442.0 L1831.3 442.3 L1832.8 442.7 L1834.3 443.0 L1835.8 443.4 L1837.3 443.7 L1838.8 444.1 L1840.3 444.4 L1841.8 444.8 L1843.3 445.1 L1844.8 445.5 L1846.3 445.8 L1847.8 446.2 L1849.3 446.5 L1850.8 446.9 L1852.3 447.2 L1853.8 447.5 L1855.3 447.9 L1856.8 448.2 L1858.3 448.6 L1859.8 448.9 L1861.3 449.3 L1862.8 449.6 L1864.3 450.0 L1865.8 450.3 L1867.3 450.6 L1868.8 451.0 L1870.3 451.3 L1871.8 451.6 L1873.3 452.0 L1874.8 452.3 L1876.3 452.6 L1877.8 452.9 L1879.3 453.2 L1880.8 453.5 L1882.3 453.7 L1883.8 454.0 L1885.3 454.2 L1886.8 454.5 L1888.3 454.8 L1889.8 455.0 L1891.3 455.3 L1892.8 455.6 L1894.3 455.8 L1895.8 456.1 L1897.3 456.3 L1898.8 456.5 L1900.3 456.7 L1901.8 456.8 L1903.3 457.0 L1904.8 457.1 L1906.3 457.1 L1907.8 457.1 L1909.3 457.2 L1910.8 457.2 L1912.3 457.2 L1913.8 457.2 L1915.3 457.2 L1916.8 457.0 L1918.3 456.8 L1919.8 456.4 L1921.3 456.0 L1922.8 455.6 L1924.3 455.1 L1925.8 454.6 L1927.3 454.2 L1928.8 453.7 L1930.3 453.2 L1931.8 452.7 L1933.3 452.1 L1934.8 451.5 L1936.3 450.8 L1937.8 450.2 L1939.3 449.5 L1940.8 448.8 L1942.3 448.1 L1943.8 447.3 L1945.3 446.5 L1946.8 445.7 L1948.3 444.8 L1949.8 443.9 L1951.3 443.0 L1952.8 442.1 L1954.3 441.1 L1955.8 440.0 L1957.3 439.0 L1958.8 437.8 L1960.3 436.7 L1961.8 435.4 L1963.3 434.1 L1964.8 432.8 L1966.3 431.5 L1967.8 430.0 L1969.3 428.6 L1970.8 427.1 L1972.3 425.6 L1973.8 424.0 L1975.3 422.3 L1976.8 420.6 L1978.3 418.8 L1979.8 416.9 L1981.3 415.0 L1982.8 413.0 L1984.3 411.0 L1985.8 408.9 L1987.3 406.7 L1988.8 404.4 L1990.3 402.0 L1991.8 399.6 L1993.3 397.0 L1994.8 394.3 L1996.3 391.5 L1997.8 388.6 L1999.3 385.4 L2000.8 381.8 L2002.3 378.1 L2003.8 374.5 L2005.3 370.9 L2006.8 367.5 L2008.3 364.4 L2009.8 361.4 L2011.3 358.7 L2012.8 356.5 L2014.3 354.7 L2015.8 353.0 L2017.3 351.8 L2018.8 351.6 L2020.3 352.5 L2021.8 354.0 L2023.3 355.9 L2024.8 358.2 L2026.3 361.2 L2027.8 364.5 L2029.3 367.4 L2030.8 370.0 L2032.3 372.3 L2033.8 374.6 L2035.3 376.9 L2036.8 379.1 L2038.3 381.3 L2039.8 383.5 L2041.3 385.7 L2042.8 387.7 L2044.3 389.7 L2045.8 391.7 L2047.3 393.6 L2048.8 395.6 L2050.3 397.4 L2051.8 399.2 L2053.3 401.0 L2054.8 402.6 L2056.3 404.2 L2057.8 405.7 L2059.3 407.2 L2060.8 408.6 L2062.3 410.0 L2063.8 411.4 L2065.3 412.7 L2066.8 414.0 L2068.3 415.3 L2069.8 416.5 L2071.3 417.7 L2072.8 418.8 L2074.3 419.9 L2075.8 421.0 L2077.3 422.0 L2078.8 422.9 L2080.3 423.9 L2081.8 424.8 L2083.3 425.6 L2084.8 426.5 L2086.3 427.3 L2087.8 428.1 L2089.3 428.9 L2090.8 429.7 L2092.3 430.5 L2093.8 431.2 L2095.3 432.0 L2096.8 432.8 L2098.3 433.6 L2099.8 434.4 L2101.3 435.2 L2102.8 436.0 L2104.3 436.9 L2105.8 437.7 L2107.3 438.5 L2108.8 439.4 L2110.3 440.2 L2111.8 441.0 L2113.3 441.8 L2114.8 442.5 L2116.3 443.2 L2117.8 443.9 L2119.3 444.6 L2120.8 445.3 L2122.3 445.9 L2123.8 446.6 L2125.3 447.2 L2126.8 447.8 L2128.3 448.4 L2129.8 449.0 L2131.3 449.6 L2132.8 450.2 L2134.3 450.8 L2135.8 451.4 L2137.3 451.9 L2138.8 452.5 L2140.3 453.0 L2141.8 453.6 L2143.3 454.1 L2144.8 454.7 L2146.3 455.2 L2147.8 455.7 L2149.3 456.3 L2150.8 456.8 L2152.3 457.3 L2153.8 457.9 L2155.3 458.4 L2156.8 458.9 L2158.3 459.4 L2159.8 459.9 L2161.3 460.4 L2162.8 460.9 L2164.3 461.4 L2165.8 461.9 L2167.3 462.4 L2168.8 462.9 L2170.3 463.4 L2171.8 463.9 L2173.3 464.4 L2174.8 464.8 L2176.3 465.3 L2177.8 465.8 L2179.3 466.2 L2180.8 466.7 L2182.3 467.1 L2183.8 467.6 L2185.3 468.0 L2186.8 468.5 L2188.3 468.9 L2189.8 469.4 L2191.3 469.8 L2192.8 470.2 L2194.3 470.7 L2195.8 471.1 L2197.3 471.5 L2198.8 471.9 L2200.3 472.3 L2201.8 472.7 L2203.3 473.1 L2204.8 473.5 L2206.3 473.9 L2207.8 474.3 L2209.3 474.7 L2210.8 475.1 L2212.3 475.5 L2213.8 475.9 L2215.3 476.3 L2216.8 476.6 L2218.3 477.0 L2219.8 477.4 L2221.3 477.8 L2222.8 478.1 L2224.3 478.5 L2225.8 478.9 L2227.3 479.2 L2228.8 479.6 L2230.3 480.0 L2231.8 480.3 L2233.3 480.7 L2234.8 481.0 L2236.3 481.4 L2237.8 481.7 L2239.3 482.1 L2240.8 482.4 L2242.3 482.8 L2243.8 483.1 L2245.3 483.5 L2246.8 483.8 L2248.3 484.2 L2249.8 484.5 L2251.3 484.8 L2252.8 485.2 L2254.3 485.5 L2255.8 485.9 L2257.3 486.2 L2258.8 486.6 L2260.3 486.9 L2260.5 487.0" fill="none" stroke="#006eb8" stroke-width="15.0" stroke-linejoin="round" />
<line x1="193.0" y1="167.6" x2="2259.0" y2="589.55" stroke="#d64c25" stroke-width="15.0" stroke-dasharray="56.8 55.2"/>
<line x1="193.0" y1="572.04" x2="2259.0" y2="150.10" stroke="#ebae1c" stroke-width="15.0" stroke-dasharray="14.9 13.1"/>
<g font-family="'Liberation Sans', sans-serif" font-size="92.6">
<text transform="translate(985.2 429.9) scale(1.03 1)" fill="#faa61a" stroke="#faa61a" stroke-width="0.8">x</text>
<text transform="translate(1298.2 421.9) scale(1.03 1)" fill="#ed1c24" stroke="#ed1c24" stroke-width="0.8">x</text>
</g>
<rect x="231.7" y="522.1" width="759.5" height="304" fill="#fff" stroke="#4d4d4f" stroke-width="5.5"/>
<line x1="245" y1="566.5" x2="386" y2="566.5" stroke="#006eb8" stroke-width="15.0"/>
<line x1="245" y1="659.5" x2="386" y2="659.5" stroke="#d64c25" stroke-width="15.0" stroke-dasharray="57 55"/>
<line x1="245" y1="766.4" x2="372" y2="766.4" stroke="#ebae1c" stroke-width="15.0" stroke-dasharray="14.9 13.1"/>
<g fill="#231f20">
<text x="394.5" y="591.3">Zout</text>
<text x="394.5" y="672.5">Z<tspan font-size="51.0" x="438.6" dy="30.5">load</tspan><tspan x="545.5" dy="-30.5">(Full capacitive)</tspan></text>
<text x="394.5" y="777.6">Z<tspan font-size="51.0" x="438.6" dy="30.5">load</tspan><tspan x="545.5" dy="-30.5">(Full inductive)</tspan></text>
</g>
</g>
<g id="phase">
<line x1="775.66" y1="889.0" x2="775.66" y2="1631.0" stroke="rgba(40,40,50,0.145)" stroke-width="5.5"/>
<line x1="1358.33" y1="889.0" x2="1358.33" y2="1631.0" stroke="rgba(40,40,50,0.145)" stroke-width="5.5"/>
<line x1="1940.99" y1="889.0" x2="1940.99" y2="1631.0" stroke="rgba(40,40,50,0.145)" stroke-width="5.5"/>
<line x1="368.40" y1="899.1" x2="368.40" y2="1631.0" stroke="rgba(40,40,50,0.17)" stroke-width="5.5" stroke-dasharray="4 10"/>
<line x1="471.00" y1="899.1" x2="471.00" y2="1631.0" stroke="rgba(40,40,50,0.17)" stroke-width="5.5" stroke-dasharray="4 10"/>
<line x1="543.80" y1="899.1" x2="543.80" y2="1631.0" stroke="rgba(40,40,50,0.17)" stroke-width="5.5" stroke-dasharray="4 10"/>
<line x1="600.26" y1="899.1" x2="600.26" y2="1631.0" stroke="rgba(40,40,50,0.17)" stroke-width="5.5" stroke-dasharray="4 10"/>
<line x1="646.40" y1="899.1" x2="646.40" y2="1631.0" stroke="rgba(40,40,50,0.17)" stroke-width="5.5" stroke-dasharray="4 10"/>
<line x1="685.41" y1="899.1" x2="685.41" y2="1631.0" stroke="rgba(40,40,50,0.17)" stroke-width="5.5" stroke-dasharray="4 10"/>
<line x1="719.20" y1="899.1" x2="719.20" y2="1631.0" stroke="rgba(40,40,50,0.17)" stroke-width="5.5" stroke-dasharray="4 10"/>
<line x1="749.00" y1="899.1" x2="749.00" y2="1631.0" stroke="rgba(40,40,50,0.17)" stroke-width="5.5" stroke-dasharray="4 10"/>
<line x1="951.06" y1="899.1" x2="951.06" y2="1631.0" stroke="rgba(40,40,50,0.17)" stroke-width="5.5" stroke-dasharray="4 10"/>
<line x1="1053.67" y1="899.1" x2="1053.67" y2="1631.0" stroke="rgba(40,40,50,0.17)" stroke-width="5.5" stroke-dasharray="4 10"/>
<line x1="1126.46" y1="899.1" x2="1126.46" y2="1631.0" stroke="rgba(40,40,50,0.17)" stroke-width="5.5" stroke-dasharray="4 10"/>
<line x1="1182.93" y1="899.1" x2="1182.93" y2="1631.0" stroke="rgba(40,40,50,0.17)" stroke-width="5.5" stroke-dasharray="4 10"/>
<line x1="1229.06" y1="899.1" x2="1229.06" y2="1631.0" stroke="rgba(40,40,50,0.17)" stroke-width="5.5" stroke-dasharray="4 10"/>
<line x1="1268.07" y1="899.1" x2="1268.07" y2="1631.0" stroke="rgba(40,40,50,0.17)" stroke-width="5.5" stroke-dasharray="4 10"/>
<line x1="1301.86" y1="899.1" x2="1301.86" y2="1631.0" stroke="rgba(40,40,50,0.17)" stroke-width="5.5" stroke-dasharray="4 10"/>
<line x1="1331.67" y1="899.1" x2="1331.67" y2="1631.0" stroke="rgba(40,40,50,0.17)" stroke-width="5.5" stroke-dasharray="4 10"/>
<line x1="1533.73" y1="899.1" x2="1533.73" y2="1631.0" stroke="rgba(40,40,50,0.17)" stroke-width="5.5" stroke-dasharray="4 10"/>
<line x1="1636.33" y1="899.1" x2="1636.33" y2="1631.0" stroke="rgba(40,40,50,0.17)" stroke-width="5.5" stroke-dasharray="4 10"/>
<line x1="1709.13" y1="899.1" x2="1709.13" y2="1631.0" stroke="rgba(40,40,50,0.17)" stroke-width="5.5" stroke-dasharray="4 10"/>
<line x1="1765.59" y1="899.1" x2="1765.59" y2="1631.0" stroke="rgba(40,40,50,0.17)" stroke-width="5.5" stroke-dasharray="4 10"/>
<line x1="1811.73" y1="899.1" x2="1811.73" y2="1631.0" stroke="rgba(40,40,50,0.17)" stroke-width="5.5" stroke-dasharray="4 10"/>
<line x1="1850.74" y1="899.1" x2="1850.74" y2="1631.0" stroke="rgba(40,40,50,0.17)" stroke-width="5.5" stroke-dasharray="4 10"/>
<line x1="1884.53" y1="899.1" x2="1884.53" y2="1631.0" stroke="rgba(40,40,50,0.17)" stroke-width="5.5" stroke-dasharray="4 10"/>
<line x1="1914.33" y1="899.1" x2="1914.33" y2="1631.0" stroke="rgba(40,40,50,0.17)" stroke-width="5.5" stroke-dasharray="4 10"/>
<line x1="2116.39" y1="899.1" x2="2116.39" y2="1631.0" stroke="rgba(40,40,50,0.17)" stroke-width="5.5" stroke-dasharray="4 10"/>
<line x1="2218.99" y1="899.1" x2="2218.99" y2="1631.0" stroke="rgba(40,40,50,0.17)" stroke-width="5.5" stroke-dasharray="4 10"/>
<line x1="193.0" y1="925.70" x2="2258.0" y2="925.70" stroke="rgba(40,40,50,0.145)" stroke-width="5.4"/>
<line x1="193.0" y1="1092.70" x2="2258.0" y2="1092.70" stroke="rgba(40,40,50,0.145)" stroke-width="5.4"/>
<line x1="193.0" y1="1259.70" x2="2258.0" y2="1259.70" stroke="rgba(40,40,50,0.145)" stroke-width="5.4"/>
<line x1="193.0" y1="1426.70" x2="2258.0" y2="1426.70" stroke="rgba(40,40,50,0.145)" stroke-width="5.4"/>
<line x1="193.0" y1="1593.70" x2="2258.0" y2="1593.70" stroke="rgba(40,40,50,0.145)" stroke-width="5.4"/>
<line x1="368.40" y1="889.0" x2="368.40" y2="902.3" stroke="#808285" stroke-width="5.5"/>
<line x1="368.40" y1="1631.0" x2="368.40" y2="1617.7" stroke="#808285" stroke-width="5.5"/>
<line x1="471.00" y1="889.0" x2="471.00" y2="902.3" stroke="#808285" stroke-width="5.5"/>
<line x1="471.00" y1="1631.0" x2="471.00" y2="1617.7" stroke="#808285" stroke-width="5.5"/>
<line x1="543.80" y1="889.0" x2="543.80" y2="902.3" stroke="#808285" stroke-width="5.5"/>
<line x1="543.80" y1="1631.0" x2="543.80" y2="1617.7" stroke="#808285" stroke-width="5.5"/>
<line x1="600.26" y1="889.0" x2="600.26" y2="902.3" stroke="#808285" stroke-width="5.5"/>
<line x1="600.26" y1="1631.0" x2="600.26" y2="1617.7" stroke="#808285" stroke-width="5.5"/>
<line x1="646.40" y1="889.0" x2="646.40" y2="902.3" stroke="#808285" stroke-width="5.5"/>
<line x1="646.40" y1="1631.0" x2="646.40" y2="1617.7" stroke="#808285" stroke-width="5.5"/>
<line x1="685.41" y1="889.0" x2="685.41" y2="902.3" stroke="#808285" stroke-width="5.5"/>
<line x1="685.41" y1="1631.0" x2="685.41" y2="1617.7" stroke="#808285" stroke-width="5.5"/>
<line x1="719.20" y1="889.0" x2="719.20" y2="902.3" stroke="#808285" stroke-width="5.5"/>
<line x1="719.20" y1="1631.0" x2="719.20" y2="1617.7" stroke="#808285" stroke-width="5.5"/>
<line x1="749.00" y1="889.0" x2="749.00" y2="902.3" stroke="#808285" stroke-width="5.5"/>
<line x1="749.00" y1="1631.0" x2="749.00" y2="1617.7" stroke="#808285" stroke-width="5.5"/>
<line x1="775.66" y1="889.0" x2="775.66" y2="912.5" stroke="#808285" stroke-width="5.5"/>
<line x1="775.66" y1="1631.0" x2="775.66" y2="1607.5" stroke="#808285" stroke-width="5.5"/>
<line x1="951.06" y1="889.0" x2="951.06" y2="902.3" stroke="#808285" stroke-width="5.5"/>
<line x1="951.06" y1="1631.0" x2="951.06" y2="1617.7" stroke="#808285" stroke-width="5.5"/>
<line x1="1053.67" y1="889.0" x2="1053.67" y2="902.3" stroke="#808285" stroke-width="5.5"/>
<line x1="1053.67" y1="1631.0" x2="1053.67" y2="1617.7" stroke="#808285" stroke-width="5.5"/>
<line x1="1126.46" y1="889.0" x2="1126.46" y2="902.3" stroke="#808285" stroke-width="5.5"/>
<line x1="1126.46" y1="1631.0" x2="1126.46" y2="1617.7" stroke="#808285" stroke-width="5.5"/>
<line x1="1182.93" y1="889.0" x2="1182.93" y2="902.3" stroke="#808285" stroke-width="5.5"/>
<line x1="1182.93" y1="1631.0" x2="1182.93" y2="1617.7" stroke="#808285" stroke-width="5.5"/>
<line x1="1229.06" y1="889.0" x2="1229.06" y2="902.3" stroke="#808285" stroke-width="5.5"/>
<line x1="1229.06" y1="1631.0" x2="1229.06" y2="1617.7" stroke="#808285" stroke-width="5.5"/>
<line x1="1268.07" y1="889.0" x2="1268.07" y2="902.3" stroke="#808285" stroke-width="5.5"/>
<line x1="1268.07" y1="1631.0" x2="1268.07" y2="1617.7" stroke="#808285" stroke-width="5.5"/>
<line x1="1301.86" y1="889.0" x2="1301.86" y2="902.3" stroke="#808285" stroke-width="5.5"/>
<line x1="1301.86" y1="1631.0" x2="1301.86" y2="1617.7" stroke="#808285" stroke-width="5.5"/>
<line x1="1331.67" y1="889.0" x2="1331.67" y2="902.3" stroke="#808285" stroke-width="5.5"/>
<line x1="1331.67" y1="1631.0" x2="1331.67" y2="1617.7" stroke="#808285" stroke-width="5.5"/>
<line x1="1358.33" y1="889.0" x2="1358.33" y2="912.5" stroke="#808285" stroke-width="5.5"/>
<line x1="1358.33" y1="1631.0" x2="1358.33" y2="1607.5" stroke="#808285" stroke-width="5.5"/>
<line x1="1533.73" y1="889.0" x2="1533.73" y2="902.3" stroke="#808285" stroke-width="5.5"/>
<line x1="1533.73" y1="1631.0" x2="1533.73" y2="1617.7" stroke="#808285" stroke-width="5.5"/>
<line x1="1636.33" y1="889.0" x2="1636.33" y2="902.3" stroke="#808285" stroke-width="5.5"/>
<line x1="1636.33" y1="1631.0" x2="1636.33" y2="1617.7" stroke="#808285" stroke-width="5.5"/>
<line x1="1709.13" y1="889.0" x2="1709.13" y2="902.3" stroke="#808285" stroke-width="5.5"/>
<line x1="1709.13" y1="1631.0" x2="1709.13" y2="1617.7" stroke="#808285" stroke-width="5.5"/>
<line x1="1765.59" y1="889.0" x2="1765.59" y2="902.3" stroke="#808285" stroke-width="5.5"/>
<line x1="1765.59" y1="1631.0" x2="1765.59" y2="1617.7" stroke="#808285" stroke-width="5.5"/>
<line x1="1811.73" y1="889.0" x2="1811.73" y2="902.3" stroke="#808285" stroke-width="5.5"/>
<line x1="1811.73" y1="1631.0" x2="1811.73" y2="1617.7" stroke="#808285" stroke-width="5.5"/>
<line x1="1850.74" y1="889.0" x2="1850.74" y2="902.3" stroke="#808285" stroke-width="5.5"/>
<line x1="1850.74" y1="1631.0" x2="1850.74" y2="1617.7" stroke="#808285" stroke-width="5.5"/>
<line x1="1884.53" y1="889.0" x2="1884.53" y2="902.3" stroke="#808285" stroke-width="5.5"/>
<line x1="1884.53" y1="1631.0" x2="1884.53" y2="1617.7" stroke="#808285" stroke-width="5.5"/>
<line x1="1914.33" y1="889.0" x2="1914.33" y2="902.3" stroke="#808285" stroke-width="5.5"/>
<line x1="1914.33" y1="1631.0" x2="1914.33" y2="1617.7" stroke="#808285" stroke-width="5.5"/>
<line x1="1940.99" y1="889.0" x2="1940.99" y2="912.5" stroke="#808285" stroke-width="5.5"/>
<line x1="1940.99" y1="1631.0" x2="1940.99" y2="1607.5" stroke="#808285" stroke-width="5.5"/>
<line x1="2116.39" y1="889.0" x2="2116.39" y2="902.3" stroke="#808285" stroke-width="5.5"/>
<line x1="2116.39" y1="1631.0" x2="2116.39" y2="1617.7" stroke="#808285" stroke-width="5.5"/>
<line x1="2218.99" y1="889.0" x2="2218.99" y2="902.3" stroke="#808285" stroke-width="5.5"/>
<line x1="2218.99" y1="1631.0" x2="2218.99" y2="1617.7" stroke="#808285" stroke-width="5.5"/>
<line x1="193.0" y1="925.70" x2="217.0" y2="925.70" stroke="#808285" stroke-width="5"/>
<line x1="2258.0" y1="925.70" x2="2235.0" y2="925.70" stroke="#808285" stroke-width="5"/>
<line x1="193.0" y1="1092.70" x2="217.0" y2="1092.70" stroke="#808285" stroke-width="5"/>
<line x1="2258.0" y1="1092.70" x2="2235.0" y2="1092.70" stroke="#808285" stroke-width="5"/>
<line x1="193.0" y1="1259.70" x2="217.0" y2="1259.70" stroke="#808285" stroke-width="5"/>
<line x1="2258.0" y1="1259.70" x2="2235.0" y2="1259.70" stroke="#808285" stroke-width="5"/>
<line x1="193.0" y1="1426.70" x2="217.0" y2="1426.70" stroke="#808285" stroke-width="5"/>
<line x1="2258.0" y1="1426.70" x2="2235.0" y2="1426.70" stroke="#808285" stroke-width="5"/>
<line x1="193.0" y1="1593.70" x2="217.0" y2="1593.70" stroke="#808285" stroke-width="5"/>
<line x1="2258.0" y1="1593.70" x2="2235.0" y2="1593.70" stroke="#808285" stroke-width="5"/>
<rect x="193.0" y="889.0" width="2065.0" height="742.0" fill="none" stroke="#808285" stroke-width="5.5"/>
<path d="M192.5 1265.3 L194.0 1265.3 L195.5 1265.3 L197.0 1265.4 L198.5 1265.4 L200.0 1265.4 L201.5 1265.5 L203.0 1265.5 L204.5 1265.5 L206.0 1265.6 L207.5 1265.6 L209.0 1265.6 L210.5 1265.7 L212.0 1265.7 L213.5 1265.7 L215.0 1265.8 L216.5 1265.8 L218.0 1265.8 L219.5 1265.9 L221.0 1265.9 L222.5 1266.0 L224.0 1266.0 L225.5 1266.0 L227.0 1266.1 L228.5 1266.1 L230.0 1266.1 L231.5 1266.2 L233.0 1266.2 L234.5 1266.3 L236.0 1266.3 L237.5 1266.3 L239.0 1266.4 L240.5 1266.4 L242.0 1266.5 L243.5 1266.5 L245.0 1266.5 L246.5 1266.6 L248.0 1266.6 L249.5 1266.7 L251.0 1266.7 L252.5 1266.7 L254.0 1266.8 L255.5 1266.8 L257.0 1266.9 L258.5 1266.9 L260.0 1266.9 L261.5 1267.0 L263.0 1267.0 L264.5 1267.1 L266.0 1267.1 L267.5 1267.2 L269.0 1267.2 L270.5 1267.3 L272.0 1267.3 L273.5 1267.3 L275.0 1267.4 L276.5 1267.4 L278.0 1267.5 L279.5 1267.5 L281.0 1267.6 L282.5 1267.6 L284.0 1267.7 L285.5 1267.7 L287.0 1267.8 L288.5 1267.8 L290.0 1267.8 L291.5 1267.9 L293.0 1267.9 L294.5 1268.0 L296.0 1268.0 L297.5 1268.1 L299.0 1268.1 L300.5 1268.2 L302.0 1268.2 L303.5 1268.3 L305.0 1268.3 L306.5 1268.4 L308.0 1268.4 L309.5 1268.5 L311.0 1268.5 L312.5 1268.6 L314.0 1268.6 L315.5 1268.7 L317.0 1268.7 L318.5 1268.8 L320.0 1268.9 L321.5 1268.9 L323.0 1269.0 L324.5 1269.0 L326.0 1269.1 L327.5 1269.1 L329.0 1269.2 L330.5 1269.2 L332.0 1269.3 L333.5 1269.3 L335.0 1269.4 L336.5 1269.5 L338.0 1269.5 L339.5 1269.6 L341.0 1269.6 L342.5 1269.7 L344.0 1269.7 L345.5 1269.8 L347.0 1269.9 L348.5 1269.9 L350.0 1270.0 L351.5 1270.0 L353.0 1270.1 L354.5 1270.2 L356.0 1270.2 L357.5 1270.3 L359.0 1270.3 L360.5 1270.4 L362.0 1270.5 L363.5 1270.5 L365.0 1270.6 L366.5 1270.7 L368.0 1270.7 L369.5 1270.8 L371.0 1270.8 L372.5 1270.9 L374.0 1271.0 L375.5 1271.0 L377.0 1271.1 L378.5 1271.2 L380.0 1271.2 L381.5 1271.3 L383.0 1271.4 L384.5 1271.4 L386.0 1271.5 L387.5 1271.6 L389.0 1271.6 L390.5 1271.7 L392.0 1271.8 L393.5 1271.9 L395.0 1271.9 L396.5 1272.0 L398.0 1272.1 L399.5 1272.1 L401.0 1272.2 L402.5 1272.3 L404.0 1272.4 L405.5 1272.4 L407.0 1272.5 L408.5 1272.6 L410.0 1272.7 L411.5 1272.7 L413.0 1272.8 L414.5 1272.9 L416.0 1273.0 L417.5 1273.0 L419.0 1273.1 L420.5 1273.2 L422.0 1273.3 L423.5 1273.3 L425.0 1273.4 L426.5 1273.5 L428.0 1273.6 L429.5 1273.7 L431.0 1273.7 L432.5 1273.8 L434.0 1273.9 L435.5 1274.0 L437.0 1274.1 L438.5 1274.2 L440.0 1274.2 L441.5 1274.3 L443.0 1274.4 L444.5 1274.5 L446.0 1274.6 L447.5 1274.7 L449.0 1274.8 L450.5 1274.8 L452.0 1274.9 L453.5 1275.0 L455.0 1275.1 L456.5 1275.2 L458.0 1275.3 L459.5 1275.4 L461.0 1275.5 L462.5 1275.6 L464.0 1275.6 L465.5 1275.7 L467.0 1275.8 L468.5 1275.9 L470.0 1276.0 L471.5 1276.1 L473.0 1276.2 L474.5 1276.3 L476.0 1276.4 L477.5 1276.5 L479.0 1276.6 L480.5 1276.7 L482.0 1276.8 L483.5 1276.9 L485.0 1277.0 L486.5 1277.1 L488.0 1277.2 L489.5 1277.3 L491.0 1277.4 L492.5 1277.5 L494.0 1277.6 L495.5 1277.7 L497.0 1277.8 L498.5 1277.9 L500.0 1278.0 L501.5 1278.1 L503.0 1278.2 L504.5 1278.3 L506.0 1278.5 L507.5 1278.6 L509.0 1278.7 L510.5 1278.8 L512.0 1278.9 L513.5 1279.0 L515.0 1279.1 L516.5 1279.2 L518.0 1279.3 L519.5 1279.5 L521.0 1279.6 L522.5 1279.7 L524.0 1279.8 L525.5 1279.9 L527.0 1280.0 L528.5 1280.2 L530.0 1280.3 L531.5 1280.4 L533.0 1280.5 L534.5 1280.6 L536.0 1280.8 L537.5 1280.9 L539.0 1281.0 L540.5 1281.1 L542.0 1281.3 L543.5 1281.4 L545.0 1281.5 L546.5 1281.6 L548.0 1281.8 L549.5 1281.9 L551.0 1282.0 L552.5 1282.2 L554.0 1282.3 L555.5 1282.4 L557.0 1282.5 L558.5 1282.7 L560.0 1282.8 L561.5 1283.0 L563.0 1283.1 L564.5 1283.2 L566.0 1283.4 L567.5 1283.5 L569.0 1283.6 L570.5 1283.8 L572.0 1283.9 L573.5 1284.1 L575.0 1284.2 L576.5 1284.3 L578.0 1284.5 L579.5 1284.6 L581.0 1284.8 L582.5 1284.9 L584.0 1285.1 L585.5 1285.2 L587.0 1285.4 L588.5 1285.5 L590.0 1285.7 L591.5 1285.8 L593.0 1286.0 L594.5 1286.1 L596.0 1286.3 L597.5 1286.4 L599.0 1286.6 L600.5 1286.8 L602.0 1286.9 L603.5 1287.1 L605.0 1287.2 L606.5 1287.4 L608.0 1287.6 L609.5 1287.7 L611.0 1287.9 L612.5 1288.1 L614.0 1288.2 L615.5 1288.4 L617.0 1288.6 L618.5 1288.7 L620.0 1288.9 L621.5 1289.1 L623.0 1289.2 L624.5 1289.4 L626.0 1289.6 L627.5 1289.8 L629.0 1289.9 L630.5 1290.1 L632.0 1290.3 L633.5 1290.5 L635.0 1290.7 L636.5 1290.8 L638.0 1291.0 L639.5 1291.2 L641.0 1291.4 L642.5 1291.6 L644.0 1291.8 L645.5 1292.0 L647.0 1292.1 L648.5 1292.3 L650.0 1292.5 L651.5 1292.7 L653.0 1292.9 L654.5 1293.1 L656.0 1293.3 L657.5 1293.5 L659.0 1293.7 L660.5 1293.9 L662.0 1294.1 L663.5 1294.3 L665.0 1294.5 L666.5 1294.7 L668.0 1294.9 L669.5 1295.1 L671.0 1295.3 L672.5 1295.6 L674.0 1295.8 L675.5 1296.0 L677.0 1296.2 L678.5 1296.4 L680.0 1296.6 L681.5 1296.8 L683.0 1297.1 L684.5 1297.3 L686.0 1297.5 L687.5 1297.7 L689.0 1298.0 L690.5 1298.2 L692.0 1298.4 L693.5 1298.6 L695.0 1298.9 L696.5 1299.1 L698.0 1299.3 L699.5 1299.6 L701.0 1299.8 L702.5 1300.1 L704.0 1300.3 L705.5 1300.5 L707.0 1300.8 L708.5 1301.0 L710.0 1301.3 L711.5 1301.5 L713.0 1301.8 L714.5 1302.0 L716.0 1302.3 L717.5 1302.5 L719.0 1302.8 L720.5 1303.0 L722.0 1303.3 L723.5 1303.6 L725.0 1303.8 L726.5 1304.1 L728.0 1304.4 L729.5 1304.6 L731.0 1304.9 L732.5 1305.2 L734.0 1305.4 L735.5 1305.7 L737.0 1306.0 L738.5 1306.3 L740.0 1306.6 L741.5 1306.8 L743.0 1307.1 L744.5 1307.4 L746.0 1307.7 L747.5 1308.0 L749.0 1308.3 L750.5 1308.6 L752.0 1308.9 L753.5 1309.2 L755.0 1309.5 L756.5 1309.8 L758.0 1310.1 L759.5 1310.4 L761.0 1310.7 L762.5 1311.0 L764.0 1311.3 L765.5 1311.6 L767.0 1311.9 L768.5 1312.3 L770.0 1312.6 L771.5 1312.9 L773.0 1313.2 L774.5 1313.5 L776.0 1313.9 L777.5 1314.2 L779.0 1314.5 L780.5 1314.9 L782.0 1315.2 L783.5 1315.6 L785.0 1315.9 L786.5 1316.3 L788.0 1316.6 L789.5 1317.0 L791.0 1317.4 L792.5 1317.8 L794.0 1318.1 L795.5 1318.5 L797.0 1318.9 L798.5 1319.3 L800.0 1319.7 L801.5 1320.1 L803.0 1320.5 L804.5 1320.9 L806.0 1321.3 L807.5 1321.7 L809.0 1322.1 L810.5 1322.5 L812.0 1322.9 L813.5 1323.4 L815.0 1323.8 L816.5 1324.2 L818.0 1324.7 L819.5 1325.1 L821.0 1325.5 L822.5 1326.0 L824.0 1326.4 L825.5 1326.9 L827.0 1327.3 L828.5 1327.8 L830.0 1328.3 L831.5 1328.7 L833.0 1329.2 L834.5 1329.7 L836.0 1330.1 L837.5 1330.6 L839.0 1331.1 L840.5 1331.6 L842.0 1332.1 L843.5 1332.5 L845.0 1333.0 L846.5 1333.5 L848.0 1334.0 L849.5 1334.5 L851.0 1335.0 L852.5 1335.5 L854.0 1336.0 L855.5 1336.5 L857.0 1337.1 L858.5 1337.6 L860.0 1338.1 L861.5 1338.6 L863.0 1339.1 L864.5 1339.7 L866.0 1340.2 L867.5 1340.7 L869.0 1341.2 L870.5 1341.8 L872.0 1342.3 L873.5 1342.9 L875.0 1343.4 L876.5 1343.9 L878.0 1344.5 L879.5 1345.0 L881.0 1345.6 L882.5 1346.2 L884.0 1346.7 L885.5 1347.3 L887.0 1347.8 L888.5 1348.4 L890.0 1349.0 L891.5 1349.5 L893.0 1350.1 L894.5 1350.7 L896.0 1351.2 L897.5 1351.8 L899.0 1352.4 L900.5 1353.0 L902.0 1353.6 L903.5 1354.2 L905.0 1354.8 L906.5 1355.3 L908.0 1356.0 L909.5 1356.6 L911.0 1357.2 L912.5 1357.8 L914.0 1358.4 L915.5 1359.0 L917.0 1359.7 L918.5 1360.3 L920.0 1360.9 L921.5 1361.6 L923.0 1362.2 L924.5 1362.9 L926.0 1363.6 L927.5 1364.2 L929.0 1364.9 L930.5 1365.6 L932.0 1366.2 L933.5 1366.9 L935.0 1367.6 L936.5 1368.3 L938.0 1369.0 L939.5 1369.7 L941.0 1370.4 L942.5 1371.2 L944.0 1371.9 L945.5 1372.6 L947.0 1373.4 L948.5 1374.1 L950.0 1374.8 L951.5 1375.6 L953.0 1376.4 L954.5 1377.1 L956.0 1377.9 L957.5 1378.7 L959.0 1379.4 L960.5 1380.2 L962.0 1381.0 L963.5 1381.8 L965.0 1382.6 L966.5 1383.4 L968.0 1384.2 L969.5 1385.0 L971.0 1385.8 L972.5 1386.7 L974.0 1387.5 L975.5 1388.3 L977.0 1389.2 L978.5 1390.0 L980.0 1390.9 L981.5 1391.7 L983.0 1392.6 L984.5 1393.5 L986.0 1394.4 L987.5 1395.3 L989.0 1396.2 L990.5 1397.1 L992.0 1398.0 L993.5 1398.9 L995.0 1399.8 L996.5 1400.8 L998.0 1401.7 L999.5 1402.6 L1001.0 1403.6 L1002.5 1404.6 L1004.0 1405.5 L1005.5 1406.5 L1007.0 1407.5 L1008.5 1408.5 L1010.0 1409.5 L1011.5 1410.5 L1013.0 1411.5 L1014.5 1412.6 L1016.0 1413.6 L1017.5 1414.6 L1019.0 1415.7 L1020.5 1416.7 L1022.0 1417.8 L1023.5 1418.8 L1025.0 1419.9 L1026.5 1421.0 L1028.0 1422.1 L1029.5 1423.2 L1031.0 1424.3 L1032.5 1425.4 L1034.0 1426.5 L1035.5 1427.6 L1037.0 1428.8 L1038.5 1430.0 L1040.0 1431.1 L1041.5 1432.3 L1043.0 1433.5 L1044.5 1434.8 L1046.0 1436.0 L1047.5 1437.2 L1049.0 1438.5 L1050.5 1439.8 L1052.0 1441.1 L1053.5 1442.4 L1055.0 1443.7 L1056.5 1445.1 L1058.0 1446.4 L1059.5 1447.8 L1061.0 1449.2 L1062.5 1450.6 L1064.0 1452.0 L1065.5 1453.4 L1067.0 1454.8 L1068.5 1456.3 L1070.0 1457.7 L1071.5 1459.2 L1073.0 1460.7 L1074.5 1462.2 L1076.0 1463.7 L1077.5 1465.2 L1079.0 1466.8 L1080.5 1468.3 L1082.0 1469.9 L1083.5 1471.4 L1085.0 1473.0 L1086.5 1474.6 L1088.0 1476.2 L1089.5 1477.9 L1091.0 1479.5 L1092.5 1481.1 L1094.0 1482.8 L1095.5 1484.5 L1097.0 1486.2 L1098.5 1487.9 L1100.0 1489.6 L1101.5 1491.3 L1103.0 1493.1 L1104.5 1494.8 L1106.0 1496.6 L1107.5 1498.4 L1109.0 1500.2 L1110.5 1502.0 L1112.0 1503.9 L1113.5 1505.7 L1115.0 1507.5 L1116.5 1509.4 L1118.0 1511.3 L1119.5 1513.1 L1121.0 1515.0 L1122.5 1516.9 L1124.0 1518.8 L1125.5 1520.7 L1127.0 1522.7 L1128.5 1524.6 L1130.0 1526.5 L1131.5 1528.4 L1133.0 1530.4 L1134.5 1532.3 L1136.0 1534.3 L1137.5 1536.2 L1139.0 1538.2 L1140.5 1540.2 L1142.0 1542.2 L1143.5 1544.1 L1145.0 1546.1 L1146.5 1548.1 L1148.0 1550.2 L1149.5 1552.2 L1151.0 1554.2 L1152.5 1556.2 L1154.0 1558.3 L1155.5 1560.3 L1157.0 1562.3 L1158.5 1564.4 L1160.0 1566.4 L1161.5 1568.5 L1163.0 1570.5 L1164.5 1572.6 L1166.0 1574.6 L1167.5 1576.7 L1169.0 1578.8 L1170.5 1580.8 L1171.4 1582.1 L1172.4 1583.4 L1173.2 1584.6 L1174.0 1585.7 L1174.8 1586.7 L1175.5 1587.6 L1176.1 1588.5 L1176.7 1589.3 L1177.2 1590.0 L1177.7 1590.7 L1178.1 1591.3 L1178.6 1591.9 L1178.9 1592.4 L1179.3 1592.9 L1179.6 1593.3 L1179.9 1593.8 L1180.2 1594.1 L1180.5 1594.5 L1180.7 1594.8 L1180.9 1595.1 L1181.1 1595.4 L1181.3 1595.6 L1181.5 1595.9 L1181.6 1596.1 L1181.7 1596.3 L1181.9 1596.4 L1182.0 1596.6 L1182.1 1596.8 L1182.2 1596.9 L1182.3 1597.0 L1182.4 1597.1 L1182.5 1597.3 L1182.5 1597.4 L1182.6 1597.4 L1182.7 1597.5 L1182.7 1597.6 L1182.8 1597.7 L1182.8 1597.8 L1182.9 1597.8 L1182.9 1597.9 L1183.0 1597.9 L1183.0 1598.0 L1183.0 1598.0 L1183.1 1598.1 L1183.1 1598.1 L1183.1 1598.1 L1183.1 1598.2 L1183.2 1598.2 L1183.2 1598.2 L1183.2 1598.2 L1183.2 1598.3 L1183.2 1598.3 L1183.2 1598.3 L1183.2 1598.3 L1183.3 1598.3 L1183.3 1598.3 L1183.3 1598.4 L1183.3 1598.4 L1183.3 1598.4 L1183.3 1598.4 L1183.3 1598.4 L1183.3 1598.4 L1183.3 1598.4 L1183.3 1598.4 L1183.3 1598.4 L1183.3 1598.4 L1183.3 1598.5 L1183.4 1598.5 L1183.4 1598.5 L1183.4 1598.5 L1183.4 1593.7 L1184.5 926.9 L1186.0 927.2 L1187.6 927.5 L1189.1 927.8 L1190.6 928.2 L1192.0 928.6 L1193.5 929.1 L1194.9 929.6 L1196.3 930.1 L1197.6 930.7 L1199.0 931.3 L1200.3 932.0 L1201.6 932.7 L1202.9 933.4 L1204.2 934.1 L1205.4 934.9 L1206.7 935.7 L1207.9 936.6 L1209.1 937.4 L1210.3 938.3 L1211.4 939.3 L1212.6 940.2 L1213.7 941.2 L1214.8 942.2 L1215.9 943.2 L1217.0 944.2 L1218.1 945.2 L1219.1 946.3 L1220.2 947.4 L1221.2 948.5 L1222.2 949.6 L1223.2 950.7 L1224.2 951.9 L1225.2 953.0 L1226.2 954.2 L1227.1 955.4 L1228.1 956.6 L1229.0 957.8 L1230.0 959.0 L1230.9 960.2 L1231.8 961.4 L1232.7 962.6 L1233.6 963.8 L1234.5 965.1 L1235.4 966.3 L1236.3 967.5 L1237.1 968.8 L1238.0 970.0 L1238.8 971.2 L1239.7 972.5 L1240.5 973.7 L1241.4 975.0 L1242.2 976.2 L1243.0 977.5 L1243.9 978.7 L1244.7 980.0 L1245.5 981.3 L1246.3 982.5 L1247.1 983.8 L1247.9 985.1 L1248.8 986.3 L1249.6 987.6 L1250.4 988.9 L1251.2 990.1 L1252.0 991.4 L1252.8 992.7 L1253.6 993.9 L1254.4 995.2 L1255.2 996.5 L1256.0 997.7 L1256.8 999.0 L1257.6 1000.3 L1258.4 1001.5 L1259.2 1002.8 L1260.0 1004.1 L1260.8 1005.4 L1261.6 1006.6 L1262.4 1007.9 L1263.2 1009.2 L1264.0 1010.4 L1264.7 1011.7 L1265.5 1013.0 L1266.3 1014.3 L1267.1 1015.5 L1267.9 1016.8 L1268.7 1018.1 L1269.5 1019.3 L1270.3 1020.6 L1271.1 1021.9 L1271.9 1023.1 L1272.7 1024.4 L1273.5 1025.7 L1274.3 1026.9 L1275.1 1028.2 L1275.9 1029.5 L1276.7 1030.7 L1277.5 1032.0 L1278.3 1033.3 L1279.1 1034.5 L1279.9 1035.8 L1280.7 1037.1 L1281.5 1038.3 L1282.3 1039.6 L1283.1 1040.9 L1283.9 1042.1 L1284.7 1043.4 L1285.5 1044.7 L1286.3 1045.9 L1287.2 1047.2 L1288.0 1048.5 L1288.8 1049.7 L1289.6 1051.0 L1290.4 1052.3 L1291.2 1053.5 L1292.0 1054.8 L1292.8 1056.0 L1293.6 1057.3 L1294.4 1058.6 L1295.2 1059.8 L1296.1 1061.1 L1296.9 1062.3 L1297.7 1063.6 L1298.5 1064.9 L1299.3 1066.1 L1300.1 1067.4 L1301.0 1068.6 L1301.8 1069.9 L1302.6 1071.1 L1303.4 1072.4 L1304.2 1073.6 L1305.1 1074.9 L1305.9 1076.1 L1306.7 1077.4 L1307.5 1078.6 L1308.4 1079.9 L1309.2 1081.1 L1310.0 1082.4 L1310.9 1083.6 L1311.7 1084.9 L1312.5 1086.1 L1313.4 1087.4 L1314.2 1088.6 L1315.0 1089.9 L1315.9 1091.1 L1316.7 1092.4 L1317.6 1093.6 L1318.4 1094.8 L1319.2 1096.1 L1320.1 1097.3 L1320.9 1098.6 L1321.8 1099.8 L1322.6 1101.0 L1323.5 1102.3 L1324.3 1103.5 L1325.2 1104.7 L1326.1 1106.0 L1326.9 1107.2 L1327.8 1108.4 L1328.6 1109.7 L1329.5 1110.9 L1330.4 1112.1 L1331.2 1113.4 L1332.1 1114.6 L1333.0 1115.8 L1333.8 1117.0 L1334.7 1118.3 L1335.6 1119.5 L1336.5 1120.7 L1337.3 1121.9 L1338.2 1123.1 L1339.1 1124.4 L1340.0 1125.6 L1340.9 1126.8 L1341.8 1128.0 L1342.6 1129.2 L1343.5 1130.4 L1344.4 1131.7 L1345.3 1132.9 L1346.2 1134.1 L1347.1 1135.3 L1348.0 1136.5 L1348.9 1137.7 L1349.8 1138.9 L1350.7 1140.1 L1351.6 1141.3 L1352.5 1142.5 L1353.4 1143.7 L1354.3 1144.9 L1355.2 1146.1 L1356.1 1147.3 L1357.1 1148.5 L1358.0 1149.7 L1358.9 1150.9 L1359.8 1152.1 L1360.7 1153.3 L1361.6 1154.5 L1362.6 1155.7 L1363.5 1156.9 L1364.4 1158.0 L1365.3 1159.2 L1366.3 1160.4 L1367.2 1161.6 L1368.1 1162.8 L1369.1 1164.0 L1370.0 1165.1 L1370.9 1166.3 L1371.9 1167.5 L1372.8 1168.7 L1373.8 1169.9 L1374.7 1171.0 L1375.7 1172.2 L1376.6 1173.4 L1377.6 1174.5 L1378.5 1175.7 L1379.5 1176.9 L1380.4 1178.0 L1381.4 1179.2 L1382.3 1180.4 L1383.3 1181.5 L1384.2 1182.7 L1385.2 1183.9 L1386.2 1185.0 L1387.1 1186.2 L1388.1 1187.3 L1389.1 1188.5 L1390.0 1189.6 L1391.0 1190.8 L1392.0 1191.9 L1393.0 1193.1 L1393.9 1194.2 L1394.9 1195.4 L1395.9 1196.5 L1396.9 1197.7 L1397.8 1198.8 L1398.8 1199.9 L1399.8 1201.1 L1400.8 1202.2 L1401.8 1203.3 L1402.8 1204.5 L1403.8 1205.6 L1404.8 1206.7 L1405.8 1207.9 L1406.8 1209.0 L1407.8 1210.1 L1408.8 1211.2 L1409.8 1212.4 L1410.8 1213.5 L1411.8 1214.6 L1412.8 1215.7 L1413.8 1216.8 L1414.8 1217.9 L1415.8 1219.1 L1416.8 1220.2 L1417.9 1221.3 L1418.9 1222.4 L1419.9 1223.5 L1420.9 1224.6 L1421.9 1225.7 L1423.0 1226.8 L1424.0 1227.9 L1425.0 1229.0 L1426.1 1230.1 L1427.1 1231.2 L1428.1 1232.3 L1429.2 1233.4 L1430.2 1234.5 L1431.2 1235.6 L1432.3 1236.6 L1433.3 1237.7 L1434.4 1238.8 L1435.4 1239.9 L1436.4 1241.0 L1437.5 1242.0 L1438.5 1243.1 L1439.6 1244.2 L1440.7 1245.3 L1441.7 1246.3 L1442.8 1247.4 L1443.8 1248.5 L1444.9 1249.5 L1445.9 1250.6 L1447.0 1251.7 L1448.1 1252.7 L1449.1 1253.8 L1450.2 1254.8 L1451.3 1255.9 L1452.4 1256.9 L1453.4 1258.0 L1454.5 1259.0 L1455.6 1260.1 L1456.7 1261.1 L1457.7 1262.2 L1458.8 1263.2 L1459.9 1264.2 L1461.0 1265.3 L1462.1 1266.3 L1463.2 1267.4 L1464.3 1268.4 L1465.4 1269.4 L1466.5 1270.4 L1467.6 1271.5 L1468.7 1272.5 L1469.8 1273.5 L1470.9 1274.5 L1472.0 1275.5 L1473.1 1276.6 L1474.2 1277.6 L1475.3 1278.6 L1476.4 1279.6 L1477.5 1280.6 L1478.6 1281.6 L1479.7 1282.6 L1480.9 1283.6 L1482.0 1284.6 L1483.1 1285.6 L1484.2 1286.6 L1485.4 1287.6 L1486.5 1288.6 L1487.6 1289.6 L1488.7 1290.6 L1489.9 1291.5 L1491.0 1292.5 L1492.1 1293.5 L1493.3 1294.5 L1494.4 1295.5 L1495.6 1296.4 L1496.7 1297.4 L1497.8 1298.4 L1499.0 1299.3 L1500.1 1300.3 L1501.3 1301.3 L1502.4 1302.2 L1503.6 1303.2 L1504.8 1304.1 L1505.9 1305.1 L1507.1 1306.1 L1508.2 1307.0 L1509.4 1308.0 L1510.6 1308.9 L1511.7 1309.8 L1512.9 1310.8 L1514.1 1311.7 L1515.2 1312.7 L1516.4 1313.6 L1517.6 1314.5 L1518.8 1315.5 L1519.9 1316.4 L1521.1 1317.3 L1522.3 1318.2 L1523.5 1319.1 L1524.7 1320.1 L1525.9 1321.0 L1527.0 1321.9 L1528.2 1322.8 L1529.4 1323.7 L1530.6 1324.6 L1531.8 1325.5 L1533.0 1326.4 L1534.2 1327.3 L1535.4 1328.2 L1536.6 1329.1 L1537.8 1330.0 L1539.0 1330.9 L1540.2 1331.8 L1541.5 1332.7 L1542.7 1333.5 L1543.9 1334.4 L1545.1 1335.3 L1546.3 1336.2 L1547.5 1337.1 L1548.8 1337.9 L1550.0 1338.8 L1551.2 1339.6 L1552.4 1340.5 L1553.7 1341.4 L1554.9 1342.2 L1556.1 1343.1 L1557.4 1343.9 L1558.6 1344.8 L1559.9 1345.6 L1561.1 1346.5 L1562.3 1347.3 L1563.6 1348.1 L1564.8 1349.0 L1566.1 1349.8 L1567.3 1350.6 L1568.6 1351.4 L1569.8 1352.3 L1571.1 1353.1 L1572.4 1353.9 L1573.6 1354.7 L1574.9 1355.5 L1576.1 1356.3 L1577.4 1357.1 L1578.7 1357.9 L1580.0 1358.7 L1581.2 1359.5 L1582.5 1360.3 L1583.8 1361.1 L1585.1 1361.9 L1586.3 1362.7 L1587.6 1363.4 L1588.9 1364.2 L1590.2 1365.0 L1591.5 1365.7 L1592.8 1366.5 L1594.1 1367.3 L1595.4 1368.0 L1596.7 1368.8 L1598.0 1369.5 L1599.3 1370.3 L1600.6 1371.0 L1601.9 1371.7 L1603.2 1372.5 L1604.5 1373.2 L1605.8 1373.9 L1607.1 1374.7 L1608.4 1375.4 L1609.7 1376.1 L1611.1 1376.8 L1612.4 1377.5 L1613.7 1378.2 L1615.0 1378.9 L1616.4 1379.6 L1617.7 1380.3 L1619.0 1381.0 L1620.4 1381.7 L1621.7 1382.4 L1623.0 1383.1 L1624.4 1383.7 L1625.7 1384.4 L1627.1 1385.1 L1628.4 1385.7 L1629.8 1386.4 L1631.1 1387.0 L1632.5 1387.7 L1633.8 1388.3 L1635.2 1389.0 L1636.6 1389.6 L1637.9 1390.3 L1639.3 1390.9 L1640.7 1391.5 L1642.0 1392.1 L1643.4 1392.8 L1644.8 1393.4 L1646.2 1394.0 L1647.5 1394.6 L1648.9 1395.2 L1650.3 1395.8 L1651.7 1396.4 L1653.1 1397.0 L1654.5 1397.5 L1655.9 1398.1 L1657.3 1398.7 L1658.7 1399.3 L1660.1 1399.8 L1661.5 1400.4 L1662.9 1400.9 L1664.3 1401.5 L1665.7 1402.0 L1667.1 1402.6 L1668.5 1403.1 L1669.9 1403.7 L1671.3 1404.2 L1672.8 1404.7 L1674.2 1405.2 L1675.6 1405.7 L1677.0 1406.2 L1678.5 1406.7 L1679.9 1407.2 L1681.3 1407.7 L1682.8 1408.2 L1684.2 1408.7 L1685.6 1409.2 L1687.1 1409.7 L1688.5 1410.1 L1690.0 1410.6 L1691.4 1411.0 L1692.9 1411.5 L1694.3 1411.9 L1695.8 1412.3 L1697.2 1412.8 L1698.7 1413.2 L1700.1 1413.6 L1701.6 1414.0 L1703.1 1414.4 L1704.5 1414.8 L1706.0 1415.2 L1707.5 1415.6 L1708.9 1415.9 L1710.4 1416.3 L1711.9 1416.6 L1713.3 1417.0 L1714.8 1417.3 L1716.3 1417.7 L1717.7 1418.0 L1719.2 1418.3 L1720.7 1418.6 L1722.2 1418.9 L1723.6 1419.2 L1725.1 1419.5 L1726.6 1419.7 L1728.1 1420.0 L1729.6 1420.2 L1731.1 1420.5 L1732.5 1420.7 L1734.0 1420.9 L1735.5 1421.1 L1737.0 1421.3 L1738.5 1421.5 L1740.0 1421.7 L1741.4 1421.9 L1742.9 1422.1 L1744.4 1422.2 L1745.9 1422.3 L1747.4 1422.5 L1748.9 1422.6 L1750.4 1422.7 L1751.8 1422.8 L1753.3 1422.9 L1754.8 1423.0 L1756.3 1423.0 L1757.8 1423.1 L1759.3 1423.1 L1760.8 1423.2 L1762.3 1423.2 L1763.8 1423.2 L1765.2 1423.2 L1766.7 1423.2 L1768.2 1423.2 L1769.7 1423.1 L1771.2 1423.1 L1772.7 1423.0 L1774.2 1422.9 L1775.6 1422.8 L1777.1 1422.7 L1778.6 1422.6 L1780.1 1422.5 L1781.6 1422.3 L1783.1 1422.2 L1784.5 1422.0 L1786.0 1421.8 L1787.5 1421.6 L1789.0 1421.4 L1790.5 1421.2 L1791.9 1421.0 L1793.4 1420.7 L1794.9 1420.4 L1796.4 1420.2 L1797.8 1419.9 L1799.3 1419.6 L1800.8 1419.2 L1802.2 1418.9 L1803.7 1418.6 L1805.2 1418.2 L1806.6 1417.8 L1808.1 1417.4 L1809.5 1417.0 L1811.0 1416.6 L1812.4 1416.2 L1813.8 1415.8 L1815.3 1415.3 L1816.7 1414.8 L1818.1 1414.4 L1819.5 1413.9 L1821.0 1413.4 L1822.4 1412.8 L1823.8 1412.3 L1825.2 1411.7 L1826.6 1411.2 L1828.0 1410.6 L1829.4 1410.0 L1830.7 1409.4 L1832.1 1408.8 L1833.5 1408.2 L1834.9 1407.5 L1836.2 1406.9 L1837.6 1406.2 L1838.9 1405.5 L1840.2 1404.8 L1841.6 1404.1 L1842.9 1403.4 L1844.2 1402.7 L1845.5 1401.9 L1846.8 1401.2 L1848.1 1400.4 L1849.4 1399.6 L1850.7 1398.8 L1851.9 1398.0 L1853.2 1397.1 L1854.4 1396.3 L1855.7 1395.4 L1856.9 1394.6 L1858.1 1393.7 L1859.4 1392.8 L1860.6 1391.9 L1861.8 1391.0 L1863.0 1390.0 L1864.1 1389.1 L1865.3 1388.1 L1866.4 1387.2 L1867.6 1386.2 L1868.7 1385.2 L1869.9 1384.2 L1871.0 1383.1 L1872.1 1382.1 L1873.2 1381.0 L1874.2 1380.0 L1875.3 1378.9 L1876.4 1377.8 L1877.4 1376.7 L1878.4 1375.6 L1879.4 1374.5 L1880.4 1373.3 L1881.4 1372.2 L1882.4 1371.0 L1883.4 1369.9 L1884.3 1368.7 L1885.2 1367.5 L1886.1 1366.3 L1887.0 1365.1 L1887.9 1363.9 L1888.8 1362.6 L1889.6 1361.4 L1890.5 1360.1 L1891.3 1358.9 L1892.1 1357.6 L1892.8 1356.3 L1893.6 1355.0 L1894.3 1353.7 L1895.0 1352.4 L1895.7 1351.1 L1896.4 1349.8 L1897.1 1348.4 L1897.7 1347.1 L1898.3 1345.8 L1898.9 1344.4 L1899.5 1343.0 L1900.1 1341.7 L1900.7 1340.3 L1901.2 1338.9 L1901.8 1337.5 L1902.3 1336.2 L1902.8 1334.8 L1903.4 1333.4 L1903.9 1332.0 L1904.4 1330.6 L1905.0 1329.2 L1905.5 1327.8 L1906.0 1326.4 L1906.6 1325.0 L1907.1 1323.6 L1907.7 1322.2 L1908.3 1320.8 L1908.9 1319.4 L1909.5 1318.0 L1910.1 1316.6 L1910.7 1315.2 L1911.4 1313.9 L1912.0 1312.5 L1912.6 1311.1 L1913.3 1309.7 L1913.9 1308.3 L1914.5 1306.9 L1915.2 1305.6 L1915.8 1304.2 L1916.4 1302.8 L1917.0 1301.4 L1917.6 1300.0 L1918.2 1298.7 L1918.8 1297.3 L1919.4 1295.9 L1920.0 1294.5 L1920.6 1293.1 L1921.2 1291.8 L1921.8 1290.4 L1922.4 1289.0 L1923.0 1287.6 L1923.6 1286.3 L1924.2 1284.9 L1924.8 1283.5 L1925.4 1282.1 L1925.9 1280.7 L1926.5 1279.4 L1927.1 1278.0 L1927.7 1276.6 L1928.2 1275.2 L1928.8 1273.9 L1929.4 1272.5 L1929.9 1271.1 L1930.5 1269.7 L1931.1 1268.3 L1931.6 1267.0 L1932.2 1265.6 L1932.8 1264.2 L1933.3 1262.8 L1933.9 1261.4 L1934.4 1260.1 L1935.0 1258.7 L1935.6 1257.3 L1936.1 1255.9 L1936.7 1254.5 L1937.2 1253.2 L1937.8 1251.8 L1938.3 1250.4 L1938.9 1249.0 L1939.5 1247.6 L1940.0 1246.2 L1940.6 1244.9 L1941.1 1243.5 L1941.7 1242.1 L1942.2 1240.7 L1942.8 1239.3 L1943.4 1237.9 L1943.9 1236.5 L1944.5 1235.1 L1945.0 1233.7 L1945.6 1232.3 L1946.2 1231.0 L1946.7 1229.6 L1947.3 1228.2 L1947.9 1226.8 L1948.4 1225.4 L1949.0 1224.0 L1949.6 1222.6 L1950.1 1221.2 L1950.7 1219.8 L1951.3 1218.4 L1951.8 1217.0 L1952.4 1215.5 L1953.0 1214.1 L1953.6 1212.7 L1954.2 1211.3 L1954.7 1209.9 L1955.3 1208.5 L1955.9 1207.1 L1956.5 1205.7 L1957.1 1204.2 L1957.7 1202.8 L1958.3 1201.4 L1958.9 1200.0 L1959.5 1198.6 L1960.2 1197.2 L1960.8 1195.8 L1961.5 1194.4 L1962.1 1193.1 L1962.9 1191.7 L1963.6 1190.4 L1964.3 1189.1 L1965.1 1187.8 L1965.9 1186.5 L1966.7 1185.2 L1967.6 1184.0 L1968.5 1182.8 L1969.4 1181.7 L1970.4 1180.5 L1971.4 1179.4 L1972.5 1178.4 L1973.6 1177.3 L1974.7 1176.4 L1975.9 1175.4 L1977.2 1174.5 L1978.4 1173.7 L1979.7 1173.0 L1981.0 1172.5 L1982.3 1172.2 L1983.6 1172.2 L1984.9 1172.4 L1986.1 1172.8 L1987.3 1173.5 L1988.4 1174.4 L1989.4 1175.4 L1990.4 1176.5 L1991.4 1177.6 L1992.3 1178.8 L1993.1 1180.1 L1993.8 1181.3 L1994.5 1182.6 L1995.2 1184.0 L1995.8 1185.3 L1996.3 1186.7 L1996.8 1188.1 L1997.3 1189.6 L1997.7 1191.0 L1998.1 1192.5 L1998.5 1194.0 L1998.8 1195.5 L1999.2 1197.0 L1999.5 1198.5 L1999.7 1200.0 L2000.0 1201.6 L2000.3 1203.1 L2000.5 1204.6 L2000.8 1206.2 L2001.0 1207.7 L2001.3 1209.2 L2001.5 1210.7 L2001.8 1212.3 L2002.0 1213.8 L2002.3 1215.3 L2002.5 1216.8 L2002.8 1218.3 L2003.0 1219.8 L2003.2 1221.3 L2003.5 1222.8 L2003.7 1224.3 L2003.9 1225.8 L2004.2 1227.3 L2004.4 1228.8 L2004.6 1230.3 L2004.8 1231.8 L2005.1 1233.3 L2005.3 1234.8 L2005.5 1236.2 L2005.7 1237.7 L2005.9 1239.2 L2006.1 1240.7 L2006.4 1242.2 L2006.6 1243.6 L2006.8 1245.1 L2007.0 1246.6 L2007.2 1248.1 L2007.4 1249.6 L2007.6 1251.0 L2007.8 1252.5 L2007.9 1254.0 L2008.1 1255.5 L2008.3 1256.9 L2008.5 1258.4 L2008.7 1259.9 L2008.9 1261.4 L2009.0 1262.9 L2009.2 1264.3 L2009.4 1265.8 L2009.6 1267.3 L2009.7 1268.8 L2009.9 1270.3 L2010.1 1271.8 L2010.2 1273.2 L2010.4 1274.7 L2010.6 1276.2 L2010.7 1277.7 L2010.9 1279.2 L2011.0 1280.7 L2011.2 1282.1 L2011.3 1283.6 L2011.5 1285.1 L2011.6 1286.6 L2011.8 1288.1 L2011.9 1289.6 L2012.0 1291.1 L2012.2 1292.6 L2012.3 1294.1 L2012.4 1295.6 L2012.6 1297.0 L2012.7 1298.5 L2012.8 1300.0 L2013.0 1301.5 L2013.1 1303.0 L2013.2 1304.5 L2013.3 1306.0 L2013.5 1307.5 L2013.6 1309.0 L2013.7 1310.5 L2013.8 1312.0 L2013.9 1313.5 L2014.1 1315.0 L2014.2 1316.5 L2014.3 1318.0 L2014.4 1319.5 L2014.5 1321.0 L2014.6 1322.4 L2014.7 1323.9 L2014.8 1325.4 L2015.0 1326.9 L2015.1 1328.4 L2015.2 1329.9 L2015.3 1331.4 L2015.4 1332.9 L2015.5 1334.4 L2015.6 1335.9 L2015.7 1337.4 L2015.8 1338.9 L2015.9 1340.4 L2016.0 1341.9 L2016.1 1343.4 L2016.2 1344.9 L2016.3 1346.4 L2016.4 1347.9 L2016.5 1349.4 L2016.6 1350.9 L2016.7 1352.4 L2016.8 1353.9 L2016.9 1355.5 L2017.0 1357.0 L2017.0 1358.5 L2017.1 1360.0 L2017.2 1361.5 L2017.3 1363.0 L2017.4 1364.5 L2017.5 1366.0 L2017.6 1367.5 L2017.7 1369.0 L2017.8 1370.5 L2017.9 1372.0 L2018.0 1373.5 L2018.1 1375.0 L2018.2 1376.5 L2018.2 1378.0 L2018.3 1379.5 L2018.4 1381.0 L2018.5 1382.5 L2018.6 1384.0 L2018.7 1385.5 L2018.8 1387.0 L2018.9 1388.5 L2019.0 1390.0 L2019.1 1391.5 L2019.2 1393.0 L2019.3 1394.5 L2019.4 1396.0 L2019.5 1397.5 L2019.6 1399.0 L2019.7 1400.5 L2019.7 1402.0 L2019.8 1403.5 L2019.9 1405.0 L2020.0 1406.6 L2020.1 1408.1 L2020.2 1409.6 L2020.3 1411.1 L2020.4 1412.6 L2020.5 1414.1 L2020.6 1415.6 L2020.7 1417.1 L2020.9 1418.6 L2021.0 1420.1 L2021.1 1421.6 L2021.2 1423.1 L2021.3 1424.6 L2021.4 1426.1 L2021.5 1427.6 L2021.6 1429.1 L2021.7 1430.6 L2021.8 1432.1 L2021.9 1433.6 L2022.1 1435.1 L2022.2 1436.6 L2022.3 1438.1 L2022.4 1439.6 L2022.5 1441.1 L2022.7 1442.6 L2022.8 1444.1 L2022.9 1445.6 L2023.0 1447.1 L2023.2 1448.6 L2023.3 1450.1 L2023.4 1451.5 L2023.6 1453.0 L2023.7 1454.5 L2023.8 1456.0 L2024.0 1457.5 L2024.1 1459.0 L2024.2 1460.5 L2024.4 1462.0 L2024.5 1463.5 L2024.7 1465.0 L2024.8 1466.5 L2025.0 1468.0 L2025.1 1469.5 L2025.3 1471.0 L2025.4 1472.5 L2025.6 1473.9 L2025.7 1475.4 L2025.9 1476.9 L2026.1 1478.4 L2026.2 1479.9 L2026.4 1481.4 L2026.6 1482.9 L2026.7 1484.4 L2026.9 1485.9 L2027.1 1487.3 L2027.3 1488.8 L2027.4 1490.3 L2027.6 1491.8 L2027.8 1493.3 L2028.0 1494.8 L2028.2 1496.3 L2028.4 1497.7 L2028.6 1499.2 L2028.8 1500.7 L2029.0 1502.2 L2029.2 1503.7 L2029.4 1505.1 L2029.6 1506.6 L2029.8 1508.1 L2030.0 1509.6 L2030.2 1511.1 L2030.4 1512.5 L2030.7 1514.0 L2030.9 1515.5 L2031.1 1517.0 L2031.4 1518.4 L2031.6 1519.9 L2031.8 1521.4 L2032.1 1522.9 L2032.3 1524.3 L2032.5 1525.8 L2032.8 1527.3 L2033.0 1528.8 L2033.3 1530.3 L2033.6 1531.7 L2033.8 1533.2 L2034.1 1534.7 L2034.4 1536.2 L2034.6 1537.6 L2034.9 1539.1 L2035.2 1540.6 L2035.5 1542.1 L2035.8 1543.6 L2036.0 1545.0 L2036.3 1546.5 L2036.6 1548.0 L2036.9 1549.5 L2037.2 1551.0 L2037.6 1552.5 L2037.9 1553.9 L2038.2 1555.4 L2038.5 1556.9 L2038.8 1558.4 L2039.2 1559.9 L2039.5 1561.4 L2039.8 1562.9 L2040.2 1564.4 L2040.5 1565.9 L2040.9 1567.4 L2041.2 1568.9 L2041.6 1570.4 L2042.0 1571.9 L2042.4 1573.3 L2042.9 1574.8 L2043.3 1576.2 L2043.8 1577.7 L2044.3 1579.1 L2044.8 1580.5 L2045.4 1581.9 L2046.0 1583.2 L2046.6 1584.6 L2047.2 1585.9 L2047.9 1587.2 L2048.7 1588.5 L2049.4 1589.7 L2050.3 1590.9 L2051.1 1592.1 L2052.1 1593.2 L2053.0 1594.3 L2054.0 1595.4 L2055.1 1596.4 L2056.2 1597.4 L2057.3 1598.4 L2058.4 1599.3 L2059.6 1600.2 L2060.9 1601.1 L2062.1 1601.9 L2063.4 1602.7 L2064.7 1603.4 L2066.1 1604.2 L2067.4 1604.8 L2068.8 1605.5 L2070.2 1606.1 L2071.6 1606.7 L2073.0 1607.2 L2074.5 1607.7 L2075.9 1608.1 L2077.4 1608.6 L2078.9 1609.0 L2080.4 1609.3 L2081.9 1609.6 L2083.3 1609.9 L2084.8 1610.1 L2086.3 1610.3 L2087.8 1610.5 L2089.3 1610.6 L2090.8 1610.7 L2092.3 1610.7 L2093.8 1610.8 L2095.3 1610.8 L2096.8 1610.8 L2098.3 1610.8 L2099.7 1610.8 L2101.2 1610.8 L2102.7 1610.8 L2104.2 1610.7 L2105.7 1610.7 L2107.2 1610.7 L2108.7 1610.6 L2110.2 1610.6 L2111.7 1610.5 L2113.2 1610.5 L2114.7 1610.4 L2116.2 1610.3 L2117.7 1610.3 L2119.2 1610.2 L2120.7 1610.1 L2122.2 1610.1 L2123.7 1610.0 L2125.2 1609.9 L2126.7 1609.8 L2128.2 1609.8 L2129.7 1609.7 L2131.2 1609.6 L2132.7 1609.5 L2134.2 1609.4 L2135.7 1609.3 L2137.2 1609.2 L2138.7 1609.1 L2140.2 1609.0 L2141.7 1608.9 L2143.2 1608.8 L2144.7 1608.7 L2146.2 1608.6 L2147.7 1608.5 L2149.2 1608.4 L2150.7 1608.3 L2152.2 1608.2 L2153.7 1608.0 L2155.2 1607.9 L2156.7 1607.8 L2158.2 1607.7 L2159.7 1607.6 L2161.2 1607.4 L2162.7 1607.3 L2164.2 1607.2 L2165.7 1607.1 L2167.2 1607.0 L2168.7 1606.8 L2170.2 1606.7 L2171.7 1606.6 L2173.2 1606.4 L2174.7 1606.3 L2176.2 1606.2 L2177.7 1606.0 L2179.2 1605.9 L2180.7 1605.8 L2182.2 1605.7 L2183.7 1605.5 L2185.2 1605.4 L2186.7 1605.2 L2188.2 1605.1 L2189.7 1605.0 L2191.2 1604.8 L2192.7 1604.7 L2194.1 1604.6 L2195.6 1604.4 L2197.1 1604.3 L2198.6 1604.2 L2200.1 1604.0 L2201.6 1603.9 L2203.1 1603.7 L2204.6 1603.6 L2206.1 1603.5 L2207.6 1603.3 L2209.1 1603.2 L2210.6 1603.1 L2212.1 1602.9 L2213.6 1602.8 L2215.1 1602.7 L2216.6 1602.5 L2218.1 1602.4 L2219.6 1602.3 L2221.1 1602.1 L2222.6 1602.0 L2224.1 1601.9 L2225.5 1601.7 L2227.0 1601.6 L2228.5 1601.5 L2230.0 1601.3 L2231.5 1601.2 L2233.0 1601.1 L2234.5 1601.0 L2236.0 1600.8 L2237.5 1600.7 L2239.0 1600.6 L2240.5 1600.5 L2242.0 1600.4 L2243.5 1600.2 L2245.0 1600.1 L2246.5 1600.0 L2248.0 1599.9 L2249.5 1599.8 L2251.0 1599.7 L2252.5 1599.5 L2254.0 1599.4 L2255.5 1599.3 L2257.0 1599.2 L2258.5 1599.1 L2260.0 1599.0 L2261.5 1598.9" fill="none" stroke="#006eb8" stroke-width="15.0" stroke-linejoin="round" />
<line x1="193.0" y1="1593.6" x2="2259.0" y2="1593.6" stroke="#d64c25" stroke-width="15.0" stroke-dasharray="56.8 55.2"/>
<line x1="193.0" y1="925.3" x2="2259.0" y2="925.3" stroke="#ebae1c" stroke-width="15.0" stroke-dasharray="14.9 13.1"/>
</g>
<g fill="#808285" text-anchor="end">
<text x="169.6" y="56.1">80</text>
<text x="169.6" y="175.1">60</text>
<text x="169.6" y="294.1">40</text>
<text x="169.6" y="413.1">20</text>
<text x="169.6" y="532.1">0</text>
<text x="169.6" y="651.1">-20</text>
<text x="169.6" y="770.1">-40</text>
<text x="169.6" y="889.1">-60</text>
<text x="169.6" y="950.3">90</text>
<text x="169.6" y="1117.3">45</text>
<text x="169.6" y="1284.3">0</text>
<text x="169.6" y="1451.3">-45</text>
<text x="169.6" y="1618.3">-90</text>
</g>
<g fill="#808285">
<text x="144.5" y="1732"><tspan>10</tspan><tspan font-size="51.0" dx="2" dy="-31">0</tspan></text>
<text x="727.2" y="1732"><tspan>10</tspan><tspan font-size="51.0" dx="2" dy="-31">1</tspan></text>
<text x="1309.8" y="1732"><tspan>10</tspan><tspan font-size="51.0" dx="2" dy="-31">2</tspan></text>
<text x="1892.5" y="1732"><tspan>10</tspan><tspan font-size="51.0" dx="2" dy="-31">3</tspan></text>
</g>
<g fill="#231f20" text-anchor="middle">
<text transform="translate(55.4 448) rotate(-90)">Magnitude (dB)</text>
<text transform="translate(55.4 1260) rotate(-90)">Phase (deg)</text>
<text x="1234" y="1806.3" xml:space="preserve">Frequency  (Hz)</text>
</g>
<rect x="1327.3" y="943.4" width="611.3" height="156.3" rx="14" ry="14" fill="#fafbfd" stroke="#a7a9ac" stroke-width="3"/>
<text x="1350.6" y="1001.9" fill="#636466">Frequency (Hz): 86.9</text>
<text x="1350.6" y="1083.7" fill="#636466">Phase (deg): 43</text>
<circle cx="1323.0" cy="1101.8" r="11.6" fill="#4d4d4f" stroke="#fffde1" stroke-width="5.6"/>
<rect x="440.7" y="1411.1" width="563.7" height="158.6" rx="14" ry="14" fill="#fafbfd" stroke="#a7a9ac" stroke-width="3"/>
<text x="485.3" y="1476.8" fill="#636466">Frequency (Hz): 25</text>
<text x="493.0" y="1547.6" fill="#636466">Phase (deg): -40</text>
<circle cx="1007.9" cy="1409.2" r="11.6" fill="#4d4d4f" stroke="#fffde1" stroke-width="5.6"/>
<line x1="1009.9" y1="954.7" x2="1008.6" y2="1383.0" stroke="#231f20" stroke-width="6"/>
<path d="M1010.0 924.7 L1029.3 971.2 L1026.0 974.5 L1009.9 962.0 L993.6 974.5 L990.5 971.0Z" fill="#231f20"/>
<path d="M1008.5 1413.0 L989.2 1366.5 L992.5 1363.2 L1008.6 1375.7 L1024.9 1363.2 L1028.0 1366.7Z" fill="#231f20"/>
<line x1="1320.9" y1="1136.2" x2="1320.1" y2="1563.0" stroke="#231f20" stroke-width="6"/>
<path d="M1321.0 1106.2 L1340.3 1152.6 L1337.1 1156.0 L1320.9 1143.5 L1304.7 1156.0 L1301.5 1152.6Z" fill="#231f20"/>
<path d="M1320.0 1593.0 L1300.7 1546.6 L1303.9 1543.2 L1320.1 1555.7 L1336.3 1543.2 L1339.5 1546.6Z" fill="#231f20"/>
<text x="780.5" y="1174" fill="#fdb913">130 deg</text>
<text x="1335.5" y="1397.4" fill="#ed1c24">133 deg</text>
</svg>
</body>
</html>
